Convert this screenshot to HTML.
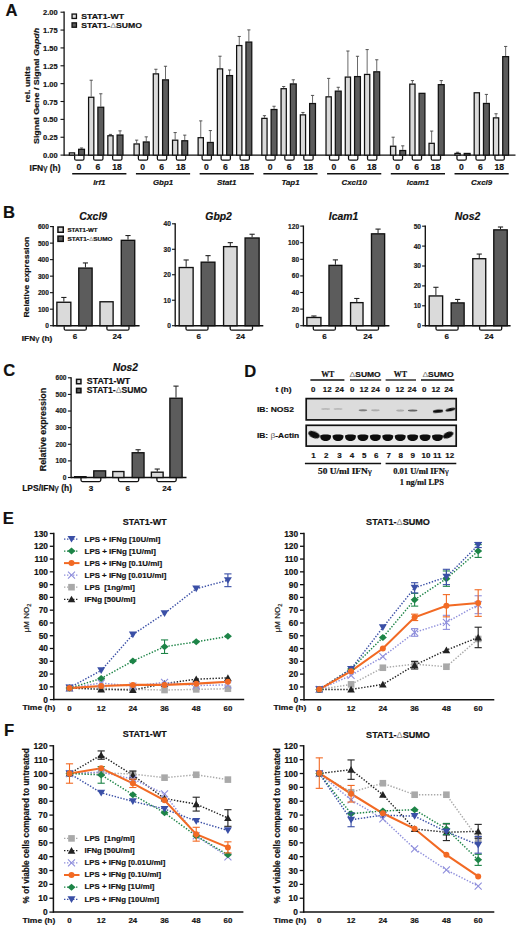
<!DOCTYPE html>
<html><head><meta charset="utf-8"><title>Figure</title>
<style>
html,body{margin:0;padding:0;background:#fff;}
body{width:520px;height:927px;overflow:hidden;}
svg{display:block;font-family:"Liberation Sans", sans-serif;}
text{stroke:#111;stroke-width:0.18px;}
tspan[fill]{stroke:none;}
</style></head><body>
<svg width="520" height="927" viewBox="0 0 520 927" fill="#111">
<rect x="0" y="0" width="520" height="927" fill="#fff"/>
<text x="5.6" y="15.7" font-size="16.6" font-weight="bold">A</text>
<line x1="64.1" y1="11.6" x2="64.1" y2="155.75" stroke="#111" stroke-width="1.3"/>
<line x1="60.5" y1="155.1" x2="64.1" y2="155.1" stroke="#111" stroke-width="1.1"/>
<text x="57.7" y="158.2" font-size="7.8" font-weight="bold" text-anchor="end" textLength="14.6" lengthAdjust="spacingAndGlyphs">0.00</text>
<line x1="60.5" y1="137.24" x2="64.1" y2="137.24" stroke="#111" stroke-width="1.1"/>
<text x="57.7" y="140.34" font-size="7.8" font-weight="bold" text-anchor="end" textLength="14.6" lengthAdjust="spacingAndGlyphs">0.25</text>
<line x1="60.5" y1="119.38" x2="64.1" y2="119.38" stroke="#111" stroke-width="1.1"/>
<text x="57.7" y="122.47" font-size="7.8" font-weight="bold" text-anchor="end" textLength="14.6" lengthAdjust="spacingAndGlyphs">0.50</text>
<line x1="60.5" y1="101.51" x2="64.1" y2="101.51" stroke="#111" stroke-width="1.1"/>
<text x="57.7" y="104.61" font-size="7.8" font-weight="bold" text-anchor="end" textLength="14.6" lengthAdjust="spacingAndGlyphs">0.75</text>
<line x1="60.5" y1="83.65" x2="64.1" y2="83.65" stroke="#111" stroke-width="1.1"/>
<text x="57.7" y="86.75" font-size="7.8" font-weight="bold" text-anchor="end" textLength="14.6" lengthAdjust="spacingAndGlyphs">1.00</text>
<line x1="60.5" y1="65.79" x2="64.1" y2="65.79" stroke="#111" stroke-width="1.1"/>
<text x="57.7" y="68.89" font-size="7.8" font-weight="bold" text-anchor="end" textLength="14.6" lengthAdjust="spacingAndGlyphs">1.25</text>
<line x1="60.5" y1="47.92" x2="64.1" y2="47.92" stroke="#111" stroke-width="1.1"/>
<text x="57.7" y="51.02" font-size="7.8" font-weight="bold" text-anchor="end" textLength="14.6" lengthAdjust="spacingAndGlyphs">1.50</text>
<line x1="60.5" y1="30.06" x2="64.1" y2="30.06" stroke="#111" stroke-width="1.1"/>
<text x="57.7" y="33.16" font-size="7.8" font-weight="bold" text-anchor="end" textLength="14.6" lengthAdjust="spacingAndGlyphs">1.75</text>
<line x1="60.5" y1="12.2" x2="64.1" y2="12.2" stroke="#111" stroke-width="1.1"/>
<text x="57.7" y="15.3" font-size="7.8" font-weight="bold" text-anchor="end" textLength="14.6" lengthAdjust="spacingAndGlyphs">2.00</text>
<line x1="64.1" y1="155.1" x2="515.5" y2="155.1" stroke="#111" stroke-width="1.3"/>
<rect x="72.05" y="14.05" width="4.4" height="4.4" fill="#dadada" stroke="#111" stroke-width="1.3"/>
<rect x="72.05" y="22.85" width="4.4" height="4.4" fill="#5c5c5c" stroke="#111" stroke-width="1.3"/>
<text x="81.2" y="18.9" font-size="7.5" font-weight="bold" textLength="42.8" lengthAdjust="spacingAndGlyphs">STAT1-WT</text>
<text x="81.2" y="28" font-size="7.5" font-weight="bold" textLength="60.8" lengthAdjust="spacingAndGlyphs">STAT1-<tspan font-weight="normal" fill="#888">Δ</tspan>SUMO</text>
<text x="30.3" y="84.4" font-size="8" font-weight="bold" text-anchor="middle" textLength="36.4" lengthAdjust="spacingAndGlyphs" transform="rotate(-90 30.3 84.4)">rel. units</text>
<text x="38.9" y="85.9" font-size="8" font-weight="bold" text-anchor="middle" textLength="116.3" lengthAdjust="spacingAndGlyphs" transform="rotate(-90 38.9 85.9)">Signal Gene / Signal <tspan font-style="italic">Gapdh</tspan></text>
<text x="29.6" y="170.6" font-size="8.4" font-weight="bold" textLength="31" lengthAdjust="spacingAndGlyphs">IFN<tspan font-weight="normal">γ</tspan> (h)</text>
<rect x="69.33" y="152.87" width="5.25" height="2.23" fill="#dadada" stroke="#111" stroke-width="1.25"/>
<line x1="81.55" y1="148.68" x2="81.55" y2="147.97" stroke="#444" stroke-width="0.8"/>
<line x1="79.95" y1="147.97" x2="83.15" y2="147.97" stroke="#444" stroke-width="0.9"/>
<rect x="78.62" y="149.31" width="5.85" height="5.79" fill="#5c5c5c" stroke="#111" stroke-width="1.25"/>
<path d="M74.65,155.7 L74.65,158.7 Q74.65,160.2 76.15,160.2 L82.45,160.2 Q83.95,160.2 83.95,158.7 L83.95,155.7" fill="none" stroke="#111" stroke-width="1.25"/>
<text x="79" y="169.9" font-size="8.6" font-weight="bold" text-anchor="middle">0</text>
<line x1="91.2" y1="96.63" x2="91.2" y2="80.23" stroke="#444" stroke-width="0.8"/>
<line x1="89.6" y1="80.23" x2="92.8" y2="80.23" stroke="#444" stroke-width="0.9"/>
<rect x="88.58" y="97.26" width="5.25" height="57.84" fill="#dadada" stroke="#111" stroke-width="1.25"/>
<line x1="100.8" y1="106.62" x2="100.8" y2="93.78" stroke="#444" stroke-width="0.8"/>
<line x1="99.2" y1="93.78" x2="102.4" y2="93.78" stroke="#444" stroke-width="0.9"/>
<rect x="97.88" y="107.24" width="5.85" height="47.86" fill="#5c5c5c" stroke="#111" stroke-width="1.25"/>
<path d="M93.65,155.7 L93.65,158.7 Q93.65,160.2 95.15,160.2 L101.45,160.2 Q102.95,160.2 102.95,158.7 L102.95,155.7" fill="none" stroke="#111" stroke-width="1.25"/>
<text x="98" y="169.9" font-size="8.6" font-weight="bold" text-anchor="middle">6</text>
<line x1="110.45" y1="135.14" x2="110.45" y2="134.42" stroke="#444" stroke-width="0.8"/>
<line x1="108.85" y1="134.42" x2="112.05" y2="134.42" stroke="#444" stroke-width="0.9"/>
<rect x="107.83" y="135.76" width="5.25" height="19.34" fill="#dadada" stroke="#111" stroke-width="1.25"/>
<line x1="120.05" y1="134.42" x2="120.05" y2="130.86" stroke="#444" stroke-width="0.8"/>
<line x1="118.45" y1="130.86" x2="121.65" y2="130.86" stroke="#444" stroke-width="0.9"/>
<rect x="117.12" y="135.05" width="5.85" height="20.05" fill="#5c5c5c" stroke="#111" stroke-width="1.25"/>
<path d="M112.65,155.7 L112.65,158.7 Q112.65,160.2 114.15,160.2 L120.45,160.2 Q121.95,160.2 121.95,158.7 L121.95,155.7" fill="none" stroke="#111" stroke-width="1.25"/>
<text x="117" y="169.9" font-size="8.6" font-weight="bold" text-anchor="middle">18</text>
<line x1="72.2" y1="173.75" x2="126.4" y2="173.75" stroke="#111" stroke-width="1.4"/>
<text x="99.3" y="184.8" font-size="7.9" font-weight="bold" text-anchor="middle" font-style="italic">Irf1</text>
<line x1="136.65" y1="143.34" x2="136.65" y2="140.13" stroke="#444" stroke-width="0.8"/>
<line x1="135.05" y1="140.13" x2="138.25" y2="140.13" stroke="#444" stroke-width="0.9"/>
<rect x="134.03" y="143.96" width="5.25" height="11.14" fill="#dadada" stroke="#111" stroke-width="1.25"/>
<line x1="146.25" y1="141.34" x2="146.25" y2="136.85" stroke="#444" stroke-width="0.8"/>
<line x1="144.65" y1="136.85" x2="147.85" y2="136.85" stroke="#444" stroke-width="0.9"/>
<rect x="143.33" y="141.96" width="5.85" height="13.14" fill="#5c5c5c" stroke="#111" stroke-width="1.25"/>
<path d="M138.37,155.7 L138.37,158.7 Q138.37,160.2 139.87,160.2 L146.17,160.2 Q147.67,160.2 147.67,158.7 L147.67,155.7" fill="none" stroke="#111" stroke-width="1.25"/>
<text x="142.72" y="169.9" font-size="8.6" font-weight="bold" text-anchor="middle">0</text>
<line x1="155.9" y1="73.25" x2="155.9" y2="69.25" stroke="#444" stroke-width="0.8"/>
<line x1="154.3" y1="69.25" x2="157.5" y2="69.25" stroke="#444" stroke-width="0.9"/>
<rect x="153.28" y="73.87" width="5.25" height="81.23" fill="#dadada" stroke="#111" stroke-width="1.25"/>
<line x1="165.5" y1="79.24" x2="165.5" y2="66.26" stroke="#444" stroke-width="0.8"/>
<line x1="163.9" y1="66.26" x2="167.1" y2="66.26" stroke="#444" stroke-width="0.9"/>
<rect x="162.58" y="79.86" width="5.85" height="75.24" fill="#5c5c5c" stroke="#111" stroke-width="1.25"/>
<path d="M157.37,155.7 L157.37,158.7 Q157.37,160.2 158.87,160.2 L165.17,160.2 Q166.67,160.2 166.67,158.7 L166.67,155.7" fill="none" stroke="#111" stroke-width="1.25"/>
<text x="161.72" y="169.9" font-size="8.6" font-weight="bold" text-anchor="middle">6</text>
<line x1="175.15" y1="139.56" x2="175.15" y2="132.57" stroke="#444" stroke-width="0.8"/>
<line x1="173.55" y1="132.57" x2="176.75" y2="132.57" stroke="#444" stroke-width="0.9"/>
<rect x="172.53" y="140.18" width="5.25" height="14.92" fill="#dadada" stroke="#111" stroke-width="1.25"/>
<line x1="184.75" y1="140.13" x2="184.75" y2="135.14" stroke="#444" stroke-width="0.8"/>
<line x1="183.15" y1="135.14" x2="186.35" y2="135.14" stroke="#444" stroke-width="0.9"/>
<rect x="181.83" y="140.75" width="5.85" height="14.35" fill="#5c5c5c" stroke="#111" stroke-width="1.25"/>
<path d="M176.37,155.7 L176.37,158.7 Q176.37,160.2 177.87,160.2 L184.17,160.2 Q185.67,160.2 185.67,158.7 L185.67,155.7" fill="none" stroke="#111" stroke-width="1.25"/>
<text x="180.72" y="169.9" font-size="8.6" font-weight="bold" text-anchor="middle">18</text>
<line x1="135.92" y1="173.75" x2="190.12" y2="173.75" stroke="#111" stroke-width="1.4"/>
<text x="163.02" y="184.8" font-size="7.9" font-weight="bold" text-anchor="middle" font-style="italic">Gbp1</text>
<line x1="200.75" y1="137.06" x2="200.75" y2="120.88" stroke="#444" stroke-width="0.8"/>
<line x1="199.15" y1="120.88" x2="202.35" y2="120.88" stroke="#444" stroke-width="0.9"/>
<rect x="198.12" y="137.69" width="5.25" height="17.41" fill="#dadada" stroke="#111" stroke-width="1.25"/>
<line x1="210.35" y1="141.84" x2="210.35" y2="130.57" stroke="#444" stroke-width="0.8"/>
<line x1="208.75" y1="130.57" x2="211.95" y2="130.57" stroke="#444" stroke-width="0.9"/>
<rect x="207.43" y="142.46" width="5.85" height="12.64" fill="#5c5c5c" stroke="#111" stroke-width="1.25"/>
<path d="M202.09,155.7 L202.09,158.7 Q202.09,160.2 203.59,160.2 L209.89,160.2 Q211.39,160.2 211.39,158.7 L211.39,155.7" fill="none" stroke="#111" stroke-width="1.25"/>
<text x="206.44" y="169.9" font-size="8.6" font-weight="bold" text-anchor="middle">0</text>
<line x1="220" y1="68.26" x2="220" y2="56.21" stroke="#444" stroke-width="0.8"/>
<line x1="218.4" y1="56.21" x2="221.6" y2="56.21" stroke="#444" stroke-width="0.9"/>
<rect x="217.38" y="68.88" width="5.25" height="86.22" fill="#dadada" stroke="#111" stroke-width="1.25"/>
<line x1="229.6" y1="74.96" x2="229.6" y2="69.97" stroke="#444" stroke-width="0.8"/>
<line x1="228" y1="69.97" x2="231.2" y2="69.97" stroke="#444" stroke-width="0.9"/>
<rect x="226.68" y="75.58" width="5.85" height="79.52" fill="#5c5c5c" stroke="#111" stroke-width="1.25"/>
<path d="M221.09,155.7 L221.09,158.7 Q221.09,160.2 222.59,160.2 L228.89,160.2 Q230.39,160.2 230.39,158.7 L230.39,155.7" fill="none" stroke="#111" stroke-width="1.25"/>
<text x="225.44" y="169.9" font-size="8.6" font-weight="bold" text-anchor="middle">6</text>
<line x1="239.25" y1="44.94" x2="239.25" y2="36.46" stroke="#444" stroke-width="0.8"/>
<line x1="237.65" y1="36.46" x2="240.85" y2="36.46" stroke="#444" stroke-width="0.9"/>
<rect x="236.62" y="45.57" width="5.25" height="109.53" fill="#dadada" stroke="#111" stroke-width="1.25"/>
<line x1="248.85" y1="41.45" x2="248.85" y2="29.9" stroke="#444" stroke-width="0.8"/>
<line x1="247.25" y1="29.9" x2="250.45" y2="29.9" stroke="#444" stroke-width="0.9"/>
<rect x="245.93" y="42.07" width="5.85" height="113.03" fill="#5c5c5c" stroke="#111" stroke-width="1.25"/>
<path d="M240.09,155.7 L240.09,158.7 Q240.09,160.2 241.59,160.2 L247.89,160.2 Q249.39,160.2 249.39,158.7 L249.39,155.7" fill="none" stroke="#111" stroke-width="1.25"/>
<text x="244.44" y="169.9" font-size="8.6" font-weight="bold" text-anchor="middle">18</text>
<line x1="199.64" y1="173.75" x2="253.84" y2="173.75" stroke="#111" stroke-width="1.4"/>
<text x="226.74" y="184.8" font-size="7.9" font-weight="bold" text-anchor="middle" font-style="italic">Stat1</text>
<line x1="264.45" y1="117.74" x2="264.45" y2="115.67" stroke="#444" stroke-width="0.8"/>
<line x1="262.85" y1="115.67" x2="266.05" y2="115.67" stroke="#444" stroke-width="0.9"/>
<rect x="261.82" y="118.36" width="5.25" height="36.74" fill="#dadada" stroke="#111" stroke-width="1.25"/>
<line x1="274.05" y1="108.9" x2="274.05" y2="106.26" stroke="#444" stroke-width="0.8"/>
<line x1="272.45" y1="106.26" x2="275.65" y2="106.26" stroke="#444" stroke-width="0.9"/>
<rect x="271.12" y="109.52" width="5.85" height="45.58" fill="#5c5c5c" stroke="#111" stroke-width="1.25"/>
<path d="M265.81,155.7 L265.81,158.7 Q265.81,160.2 267.31,160.2 L273.61,160.2 Q275.11,160.2 275.11,158.7 L275.11,155.7" fill="none" stroke="#111" stroke-width="1.25"/>
<text x="270.16" y="169.9" font-size="8.6" font-weight="bold" text-anchor="middle">0</text>
<line x1="283.7" y1="88.08" x2="283.7" y2="86.51" stroke="#444" stroke-width="0.8"/>
<line x1="282.1" y1="86.51" x2="285.3" y2="86.51" stroke="#444" stroke-width="0.9"/>
<rect x="281.07" y="88.7" width="5.25" height="66.4" fill="#dadada" stroke="#111" stroke-width="1.25"/>
<line x1="293.3" y1="83.3" x2="293.3" y2="79.81" stroke="#444" stroke-width="0.8"/>
<line x1="291.7" y1="79.81" x2="294.9" y2="79.81" stroke="#444" stroke-width="0.9"/>
<rect x="290.38" y="83.93" width="5.85" height="71.17" fill="#5c5c5c" stroke="#111" stroke-width="1.25"/>
<path d="M284.81,155.7 L284.81,158.7 Q284.81,160.2 286.31,160.2 L292.61,160.2 Q294.11,160.2 294.11,158.7 L294.11,155.7" fill="none" stroke="#111" stroke-width="1.25"/>
<text x="289.16" y="169.9" font-size="8.6" font-weight="bold" text-anchor="middle">6</text>
<line x1="302.95" y1="114.25" x2="302.95" y2="112.46" stroke="#444" stroke-width="0.8"/>
<line x1="301.35" y1="112.46" x2="304.55" y2="112.46" stroke="#444" stroke-width="0.9"/>
<rect x="300.32" y="114.87" width="5.25" height="40.23" fill="#dadada" stroke="#111" stroke-width="1.25"/>
<line x1="312.55" y1="102.91" x2="312.55" y2="95.42" stroke="#444" stroke-width="0.8"/>
<line x1="310.95" y1="95.42" x2="314.15" y2="95.42" stroke="#444" stroke-width="0.9"/>
<rect x="309.62" y="103.53" width="5.85" height="51.57" fill="#5c5c5c" stroke="#111" stroke-width="1.25"/>
<path d="M303.81,155.7 L303.81,158.7 Q303.81,160.2 305.31,160.2 L311.61,160.2 Q313.11,160.2 313.11,158.7 L313.11,155.7" fill="none" stroke="#111" stroke-width="1.25"/>
<text x="308.16" y="169.9" font-size="8.6" font-weight="bold" text-anchor="middle">18</text>
<line x1="263.36" y1="173.75" x2="317.56" y2="173.75" stroke="#111" stroke-width="1.4"/>
<text x="290.46" y="184.8" font-size="7.9" font-weight="bold" text-anchor="middle" font-style="italic">Tap1</text>
<line x1="328.65" y1="96.21" x2="328.65" y2="78.38" stroke="#444" stroke-width="0.8"/>
<line x1="327.05" y1="78.38" x2="330.25" y2="78.38" stroke="#444" stroke-width="0.9"/>
<rect x="326.02" y="96.83" width="5.25" height="58.27" fill="#dadada" stroke="#111" stroke-width="1.25"/>
<line x1="338.25" y1="90.5" x2="338.25" y2="87.29" stroke="#444" stroke-width="0.8"/>
<line x1="336.65" y1="87.29" x2="339.85" y2="87.29" stroke="#444" stroke-width="0.9"/>
<rect x="335.32" y="91.13" width="5.85" height="63.97" fill="#5c5c5c" stroke="#111" stroke-width="1.25"/>
<path d="M329.53,155.7 L329.53,158.7 Q329.53,160.2 331.03,160.2 L337.33,160.2 Q338.83,160.2 338.83,158.7 L338.83,155.7" fill="none" stroke="#111" stroke-width="1.25"/>
<text x="333.88" y="169.9" font-size="8.6" font-weight="bold" text-anchor="middle">0</text>
<line x1="347.9" y1="76.46" x2="347.9" y2="51" stroke="#444" stroke-width="0.8"/>
<line x1="346.3" y1="51" x2="349.5" y2="51" stroke="#444" stroke-width="0.9"/>
<rect x="345.27" y="77.08" width="5.25" height="78.02" fill="#dadada" stroke="#111" stroke-width="1.25"/>
<line x1="357.5" y1="75.96" x2="357.5" y2="56.28" stroke="#444" stroke-width="0.8"/>
<line x1="355.9" y1="56.28" x2="359.1" y2="56.28" stroke="#444" stroke-width="0.9"/>
<rect x="354.57" y="76.58" width="5.85" height="78.52" fill="#5c5c5c" stroke="#111" stroke-width="1.25"/>
<path d="M348.53,155.7 L348.53,158.7 Q348.53,160.2 350.03,160.2 L356.33,160.2 Q357.83,160.2 357.83,158.7 L357.83,155.7" fill="none" stroke="#111" stroke-width="1.25"/>
<text x="352.88" y="169.9" font-size="8.6" font-weight="bold" text-anchor="middle">6</text>
<line x1="367.15" y1="73.82" x2="367.15" y2="49.58" stroke="#444" stroke-width="0.8"/>
<line x1="365.55" y1="49.58" x2="368.75" y2="49.58" stroke="#444" stroke-width="0.9"/>
<rect x="364.52" y="74.44" width="5.25" height="80.66" fill="#dadada" stroke="#111" stroke-width="1.25"/>
<line x1="376.75" y1="71.18" x2="376.75" y2="59.77" stroke="#444" stroke-width="0.8"/>
<line x1="375.15" y1="59.77" x2="378.35" y2="59.77" stroke="#444" stroke-width="0.9"/>
<rect x="373.82" y="71.8" width="5.85" height="83.3" fill="#5c5c5c" stroke="#111" stroke-width="1.25"/>
<path d="M367.53,155.7 L367.53,158.7 Q367.53,160.2 369.03,160.2 L375.33,160.2 Q376.83,160.2 376.83,158.7 L376.83,155.7" fill="none" stroke="#111" stroke-width="1.25"/>
<text x="371.88" y="169.9" font-size="8.6" font-weight="bold" text-anchor="middle">18</text>
<line x1="327.08" y1="173.75" x2="381.28" y2="173.75" stroke="#111" stroke-width="1.4"/>
<text x="354.18" y="184.8" font-size="7.9" font-weight="bold" text-anchor="middle" font-style="italic">Cxcl10</text>
<line x1="393.15" y1="145.62" x2="393.15" y2="137.2" stroke="#444" stroke-width="0.8"/>
<line x1="391.55" y1="137.2" x2="394.75" y2="137.2" stroke="#444" stroke-width="0.9"/>
<rect x="390.52" y="146.24" width="5.25" height="8.86" fill="#dadada" stroke="#111" stroke-width="1.25"/>
<line x1="402.75" y1="149.9" x2="402.75" y2="145.83" stroke="#444" stroke-width="0.8"/>
<line x1="401.15" y1="145.83" x2="404.35" y2="145.83" stroke="#444" stroke-width="0.9"/>
<rect x="399.82" y="150.52" width="5.85" height="4.58" fill="#5c5c5c" stroke="#111" stroke-width="1.25"/>
<path d="M393.25,155.7 L393.25,158.7 Q393.25,160.2 394.75,160.2 L401.05,160.2 Q402.55,160.2 402.55,158.7 L402.55,155.7" fill="none" stroke="#111" stroke-width="1.25"/>
<text x="397.6" y="169.9" font-size="8.6" font-weight="bold" text-anchor="middle">0</text>
<line x1="412.4" y1="83.51" x2="412.4" y2="80.59" stroke="#444" stroke-width="0.8"/>
<line x1="410.8" y1="80.59" x2="414" y2="80.59" stroke="#444" stroke-width="0.9"/>
<rect x="409.77" y="84.14" width="5.25" height="70.96" fill="#dadada" stroke="#111" stroke-width="1.25"/>
<rect x="419.07" y="93.34" width="5.85" height="61.76" fill="#5c5c5c" stroke="#111" stroke-width="1.25"/>
<path d="M412.25,155.7 L412.25,158.7 Q412.25,160.2 413.75,160.2 L420.05,160.2 Q421.55,160.2 421.55,158.7 L421.55,155.7" fill="none" stroke="#111" stroke-width="1.25"/>
<text x="416.6" y="169.9" font-size="8.6" font-weight="bold" text-anchor="middle">6</text>
<line x1="431.65" y1="142.69" x2="431.65" y2="131.07" stroke="#444" stroke-width="0.8"/>
<line x1="430.05" y1="131.07" x2="433.25" y2="131.07" stroke="#444" stroke-width="0.9"/>
<rect x="429.02" y="143.32" width="5.25" height="11.78" fill="#dadada" stroke="#111" stroke-width="1.25"/>
<line x1="441.25" y1="84.01" x2="441.25" y2="80.59" stroke="#444" stroke-width="0.8"/>
<line x1="439.65" y1="80.59" x2="442.85" y2="80.59" stroke="#444" stroke-width="0.9"/>
<rect x="438.32" y="84.64" width="5.85" height="70.46" fill="#5c5c5c" stroke="#111" stroke-width="1.25"/>
<path d="M431.25,155.7 L431.25,158.7 Q431.25,160.2 432.75,160.2 L439.05,160.2 Q440.55,160.2 440.55,158.7 L440.55,155.7" fill="none" stroke="#111" stroke-width="1.25"/>
<text x="435.6" y="169.9" font-size="8.6" font-weight="bold" text-anchor="middle">18</text>
<line x1="390.8" y1="173.75" x2="445" y2="173.75" stroke="#111" stroke-width="1.4"/>
<text x="417.9" y="184.8" font-size="7.9" font-weight="bold" text-anchor="middle" font-style="italic">Icam1</text>
<line x1="457.55" y1="152.82" x2="457.55" y2="152.25" stroke="#444" stroke-width="0.8"/>
<line x1="455.95" y1="152.25" x2="459.15" y2="152.25" stroke="#444" stroke-width="0.9"/>
<rect x="454.93" y="153.44" width="5.25" height="1.66" fill="#dadada" stroke="#111" stroke-width="1.25"/>
<rect x="464.23" y="153.44" width="5.85" height="1.66" fill="#5c5c5c" stroke="#111" stroke-width="1.25"/>
<path d="M456.97,155.7 L456.97,158.7 Q456.97,160.2 458.47,160.2 L464.77,160.2 Q466.27,160.2 466.27,158.7 L466.27,155.7" fill="none" stroke="#111" stroke-width="1.25"/>
<text x="461.32" y="169.9" font-size="8.6" font-weight="bold" text-anchor="middle">0</text>
<rect x="474.18" y="92.77" width="5.25" height="62.33" fill="#dadada" stroke="#111" stroke-width="1.25"/>
<line x1="486.4" y1="102.84" x2="486.4" y2="94.42" stroke="#444" stroke-width="0.8"/>
<line x1="484.8" y1="94.42" x2="488" y2="94.42" stroke="#444" stroke-width="0.9"/>
<rect x="483.48" y="103.46" width="5.85" height="51.64" fill="#5c5c5c" stroke="#111" stroke-width="1.25"/>
<path d="M475.97,155.7 L475.97,158.7 Q475.97,160.2 477.47,160.2 L483.77,160.2 Q485.27,160.2 485.27,158.7 L485.27,155.7" fill="none" stroke="#111" stroke-width="1.25"/>
<text x="480.32" y="169.9" font-size="8.6" font-weight="bold" text-anchor="middle">6</text>
<line x1="496.05" y1="117.24" x2="496.05" y2="113.75" stroke="#444" stroke-width="0.8"/>
<line x1="494.45" y1="113.75" x2="497.65" y2="113.75" stroke="#444" stroke-width="0.9"/>
<rect x="493.43" y="117.86" width="5.25" height="37.24" fill="#dadada" stroke="#111" stroke-width="1.25"/>
<line x1="505.65" y1="55.99" x2="505.65" y2="46.44" stroke="#444" stroke-width="0.8"/>
<line x1="504.05" y1="46.44" x2="507.25" y2="46.44" stroke="#444" stroke-width="0.9"/>
<rect x="502.73" y="56.62" width="5.85" height="98.48" fill="#5c5c5c" stroke="#111" stroke-width="1.25"/>
<path d="M494.97,155.7 L494.97,158.7 Q494.97,160.2 496.47,160.2 L502.77,160.2 Q504.27,160.2 504.27,158.7 L504.27,155.7" fill="none" stroke="#111" stroke-width="1.25"/>
<text x="499.32" y="169.9" font-size="8.6" font-weight="bold" text-anchor="middle">18</text>
<line x1="454.52" y1="173.75" x2="508.72" y2="173.75" stroke="#111" stroke-width="1.4"/>
<text x="481.62" y="184.8" font-size="7.9" font-weight="bold" text-anchor="middle" font-style="italic">Cxcl9</text>
<text x="3.1" y="217.6" font-size="16.6" font-weight="bold">B</text>
<text x="28.9" y="277.2" font-size="8.1" font-weight="bold" text-anchor="middle" textLength="80.8" lengthAdjust="spacingAndGlyphs" transform="rotate(-90 28.9 277.2)">Relative expression</text>
<text x="21.8" y="341" font-size="7.3" font-weight="bold" textLength="30.5" lengthAdjust="spacingAndGlyphs">IFN<tspan font-weight="normal">γ</tspan> (h)</text>
<line x1="53.2" y1="226" x2="53.2" y2="326.4" stroke="#111" stroke-width="1.35"/>
<line x1="50" y1="325.7" x2="53.2" y2="325.7" stroke="#111" stroke-width="1.1"/>
<text x="48.9" y="328.1" font-size="6.6" font-weight="bold" text-anchor="end" fill="#222">0</text>
<line x1="50" y1="309.18" x2="53.2" y2="309.18" stroke="#111" stroke-width="1.1"/>
<text x="48.9" y="311.58" font-size="6.6" font-weight="bold" text-anchor="end" fill="#222">100</text>
<line x1="50" y1="292.67" x2="53.2" y2="292.67" stroke="#111" stroke-width="1.1"/>
<text x="48.9" y="295.07" font-size="6.6" font-weight="bold" text-anchor="end" fill="#222">200</text>
<line x1="50" y1="276.15" x2="53.2" y2="276.15" stroke="#111" stroke-width="1.1"/>
<text x="48.9" y="278.55" font-size="6.6" font-weight="bold" text-anchor="end" fill="#222">300</text>
<line x1="50" y1="259.63" x2="53.2" y2="259.63" stroke="#111" stroke-width="1.1"/>
<text x="48.9" y="262.03" font-size="6.6" font-weight="bold" text-anchor="end" fill="#222">400</text>
<line x1="50" y1="243.12" x2="53.2" y2="243.12" stroke="#111" stroke-width="1.1"/>
<text x="48.9" y="245.52" font-size="6.6" font-weight="bold" text-anchor="end" fill="#222">500</text>
<line x1="50" y1="226.6" x2="53.2" y2="226.6" stroke="#111" stroke-width="1.1"/>
<text x="48.9" y="229" font-size="6.6" font-weight="bold" text-anchor="end" fill="#222">600</text>
<line x1="53.2" y1="325.7" x2="139.6" y2="325.7" stroke="#111" stroke-width="1.35"/>
<line x1="63.85" y1="301.59" x2="63.85" y2="297.46" stroke="#222" stroke-width="1"/>
<line x1="61.25" y1="297.46" x2="66.45" y2="297.46" stroke="#222" stroke-width="1.1"/>
<rect x="56.88" y="302.26" width="13.95" height="23.44" fill="#dadada" stroke="#111" stroke-width="1.35"/>
<line x1="85.45" y1="267.4" x2="85.45" y2="262.94" stroke="#222" stroke-width="1"/>
<line x1="82.85" y1="262.94" x2="88.05" y2="262.94" stroke="#222" stroke-width="1.1"/>
<rect x="78.77" y="268.07" width="13.35" height="57.63" fill="#5c5c5c" stroke="#111" stroke-width="1.35"/>
<rect x="99.97" y="301.77" width="13.15" height="23.93" fill="#dadada" stroke="#111" stroke-width="1.35"/>
<line x1="128" y1="239.65" x2="128" y2="235.52" stroke="#222" stroke-width="1"/>
<line x1="125.4" y1="235.52" x2="130.6" y2="235.52" stroke="#222" stroke-width="1.1"/>
<rect x="121.27" y="240.32" width="13.45" height="85.38" fill="#5c5c5c" stroke="#111" stroke-width="1.35"/>
<path d="M64.2,326.3 L64.2,328.7 Q64.2,330.2 65.7,330.2 L84.8,330.2 Q86.3,330.2 86.3,328.7 L86.3,326.3" fill="none" stroke="#111" stroke-width="1.3"/>
<path d="M106.9,326.3 L106.9,328.7 Q106.9,330.2 108.4,330.2 L127.5,330.2 Q129,330.2 129,328.7 L129,326.3" fill="none" stroke="#111" stroke-width="1.3"/>
<text x="74.9" y="339.2" font-size="8.1" font-weight="bold" text-anchor="middle">6</text>
<text x="117.1" y="339.2" font-size="8.1" font-weight="bold" text-anchor="middle">24</text>
<text x="93.2" y="219.8" font-size="10.4" font-weight="bold" text-anchor="middle" font-style="italic">Cxcl9</text>
<rect x="57.95" y="227.05" width="5.3" height="5.2" fill="#dadada" stroke="#111" stroke-width="1.5"/>
<rect x="57.95" y="236.15" width="5.3" height="5.2" fill="#5c5c5c" stroke="#111" stroke-width="1.5"/>
<text x="67.4" y="231.7" font-size="5.9" font-weight="bold" textLength="30.2" lengthAdjust="spacingAndGlyphs">STAT1-WT</text>
<text x="67.4" y="240.8" font-size="5.9" font-weight="bold" textLength="45.2" lengthAdjust="spacingAndGlyphs">STAT1-<tspan font-weight="normal" fill="#888">Δ</tspan>SUMO</text>
<line x1="175.2" y1="223.2" x2="175.2" y2="326.4" stroke="#111" stroke-width="1.35"/>
<line x1="172" y1="325.7" x2="175.2" y2="325.7" stroke="#111" stroke-width="1.1"/>
<text x="170.9" y="328.1" font-size="6.6" font-weight="bold" text-anchor="end" fill="#222">0</text>
<line x1="172" y1="300.23" x2="175.2" y2="300.23" stroke="#111" stroke-width="1.1"/>
<text x="170.9" y="302.62" font-size="6.6" font-weight="bold" text-anchor="end" fill="#222">10</text>
<line x1="172" y1="274.75" x2="175.2" y2="274.75" stroke="#111" stroke-width="1.1"/>
<text x="170.9" y="277.15" font-size="6.6" font-weight="bold" text-anchor="end" fill="#222">20</text>
<line x1="172" y1="249.28" x2="175.2" y2="249.28" stroke="#111" stroke-width="1.1"/>
<text x="170.9" y="251.68" font-size="6.6" font-weight="bold" text-anchor="end" fill="#222">30</text>
<line x1="172" y1="223.8" x2="175.2" y2="223.8" stroke="#111" stroke-width="1.1"/>
<text x="170.9" y="226.2" font-size="6.6" font-weight="bold" text-anchor="end" fill="#222">40</text>
<line x1="175.2" y1="325.7" x2="263.3" y2="325.7" stroke="#111" stroke-width="1.35"/>
<line x1="186.15" y1="266.85" x2="186.15" y2="259.97" stroke="#222" stroke-width="1"/>
<line x1="183.55" y1="259.97" x2="188.75" y2="259.97" stroke="#222" stroke-width="1.1"/>
<rect x="179.18" y="267.53" width="13.95" height="58.17" fill="#dadada" stroke="#111" stroke-width="1.35"/>
<line x1="208.05" y1="261.5" x2="208.05" y2="255.64" stroke="#222" stroke-width="1"/>
<line x1="205.45" y1="255.64" x2="210.65" y2="255.64" stroke="#222" stroke-width="1.1"/>
<rect x="201.18" y="262.18" width="13.75" height="63.52" fill="#5c5c5c" stroke="#111" stroke-width="1.35"/>
<line x1="230.3" y1="245.96" x2="230.3" y2="242.65" stroke="#222" stroke-width="1"/>
<line x1="227.7" y1="242.65" x2="232.9" y2="242.65" stroke="#222" stroke-width="1.1"/>
<rect x="223.58" y="246.64" width="13.45" height="79.06" fill="#dadada" stroke="#111" stroke-width="1.35"/>
<line x1="252.1" y1="237.3" x2="252.1" y2="234.24" stroke="#222" stroke-width="1"/>
<line x1="249.5" y1="234.24" x2="254.7" y2="234.24" stroke="#222" stroke-width="1.1"/>
<rect x="245.08" y="237.98" width="14.05" height="87.72" fill="#5c5c5c" stroke="#111" stroke-width="1.35"/>
<path d="M186,326.3 L186,328.7 Q186,330.2 187.5,330.2 L206.5,330.2 Q208,330.2 208,328.7 L208,326.3" fill="none" stroke="#111" stroke-width="1.3"/>
<path d="M230.2,326.3 L230.2,328.7 Q230.2,330.2 231.7,330.2 L251,330.2 Q252.5,330.2 252.5,328.7 L252.5,326.3" fill="none" stroke="#111" stroke-width="1.3"/>
<text x="198.7" y="339.2" font-size="8.1" font-weight="bold" text-anchor="middle">6</text>
<text x="240.4" y="339.2" font-size="8.1" font-weight="bold" text-anchor="middle">24</text>
<text x="218.6" y="219.8" font-size="10.4" font-weight="bold" text-anchor="middle" font-style="italic">Gbp2</text>
<line x1="303.4" y1="225.5" x2="303.4" y2="326.4" stroke="#111" stroke-width="1.35"/>
<line x1="300.2" y1="325.7" x2="303.4" y2="325.7" stroke="#111" stroke-width="1.1"/>
<text x="299.1" y="328.1" font-size="6.6" font-weight="bold" text-anchor="end" fill="#222">0</text>
<line x1="300.2" y1="309.1" x2="303.4" y2="309.1" stroke="#111" stroke-width="1.1"/>
<text x="299.1" y="311.5" font-size="6.6" font-weight="bold" text-anchor="end" fill="#222">20</text>
<line x1="300.2" y1="292.5" x2="303.4" y2="292.5" stroke="#111" stroke-width="1.1"/>
<text x="299.1" y="294.9" font-size="6.6" font-weight="bold" text-anchor="end" fill="#222">40</text>
<line x1="300.2" y1="275.9" x2="303.4" y2="275.9" stroke="#111" stroke-width="1.1"/>
<text x="299.1" y="278.3" font-size="6.6" font-weight="bold" text-anchor="end" fill="#222">60</text>
<line x1="300.2" y1="259.3" x2="303.4" y2="259.3" stroke="#111" stroke-width="1.1"/>
<text x="299.1" y="261.7" font-size="6.6" font-weight="bold" text-anchor="end" fill="#222">80</text>
<line x1="300.2" y1="242.7" x2="303.4" y2="242.7" stroke="#111" stroke-width="1.1"/>
<text x="299.1" y="245.1" font-size="6.6" font-weight="bold" text-anchor="end" fill="#222">100</text>
<line x1="300.2" y1="226.1" x2="303.4" y2="226.1" stroke="#111" stroke-width="1.1"/>
<text x="299.1" y="228.5" font-size="6.6" font-weight="bold" text-anchor="end" fill="#222">120</text>
<line x1="303.4" y1="325.7" x2="389.4" y2="325.7" stroke="#111" stroke-width="1.35"/>
<line x1="313.9" y1="316.82" x2="313.9" y2="315.99" stroke="#222" stroke-width="1"/>
<line x1="311.3" y1="315.99" x2="316.5" y2="315.99" stroke="#222" stroke-width="1.1"/>
<rect x="306.88" y="317.49" width="14.05" height="8.21" fill="#dadada" stroke="#111" stroke-width="1.35"/>
<line x1="335.4" y1="264.69" x2="335.4" y2="259.88" stroke="#222" stroke-width="1"/>
<line x1="332.8" y1="259.88" x2="338" y2="259.88" stroke="#222" stroke-width="1.1"/>
<rect x="328.98" y="265.37" width="12.85" height="60.33" fill="#5c5c5c" stroke="#111" stroke-width="1.35"/>
<line x1="356.8" y1="301.96" x2="356.8" y2="298.48" stroke="#222" stroke-width="1"/>
<line x1="354.2" y1="298.48" x2="359.4" y2="298.48" stroke="#222" stroke-width="1.1"/>
<rect x="350.57" y="302.64" width="12.45" height="23.06" fill="#dadada" stroke="#111" stroke-width="1.35"/>
<line x1="378.05" y1="233.15" x2="378.05" y2="229.09" stroke="#222" stroke-width="1"/>
<line x1="375.45" y1="229.09" x2="380.65" y2="229.09" stroke="#222" stroke-width="1.1"/>
<rect x="371.48" y="233.83" width="13.15" height="91.87" fill="#5c5c5c" stroke="#111" stroke-width="1.35"/>
<path d="M313.3,326.3 L313.3,328.7 Q313.3,330.2 314.8,330.2 L333.9,330.2 Q335.4,330.2 335.4,328.7 L335.4,326.3" fill="none" stroke="#111" stroke-width="1.3"/>
<path d="M356.4,326.3 L356.4,328.7 Q356.4,330.2 357.9,330.2 L377,330.2 Q378.5,330.2 378.5,328.7 L378.5,326.3" fill="none" stroke="#111" stroke-width="1.3"/>
<text x="324.6" y="339.2" font-size="8.1" font-weight="bold" text-anchor="middle">6</text>
<text x="367.7" y="339.2" font-size="8.1" font-weight="bold" text-anchor="middle">24</text>
<text x="343.5" y="219.8" font-size="10.4" font-weight="bold" text-anchor="middle" font-style="italic">Icam1</text>
<line x1="425.3" y1="225.6" x2="425.3" y2="326.4" stroke="#111" stroke-width="1.35"/>
<line x1="422.1" y1="325.7" x2="425.3" y2="325.7" stroke="#111" stroke-width="1.1"/>
<text x="421" y="328.1" font-size="6.6" font-weight="bold" text-anchor="end" fill="#222">0</text>
<line x1="422.1" y1="305.8" x2="425.3" y2="305.8" stroke="#111" stroke-width="1.1"/>
<text x="421" y="308.2" font-size="6.6" font-weight="bold" text-anchor="end" fill="#222">10</text>
<line x1="422.1" y1="285.9" x2="425.3" y2="285.9" stroke="#111" stroke-width="1.1"/>
<text x="421" y="288.3" font-size="6.6" font-weight="bold" text-anchor="end" fill="#222">20</text>
<line x1="422.1" y1="266" x2="425.3" y2="266" stroke="#111" stroke-width="1.1"/>
<text x="421" y="268.4" font-size="6.6" font-weight="bold" text-anchor="end" fill="#222">30</text>
<line x1="422.1" y1="246.1" x2="425.3" y2="246.1" stroke="#111" stroke-width="1.1"/>
<text x="421" y="248.5" font-size="6.6" font-weight="bold" text-anchor="end" fill="#222">40</text>
<line x1="422.1" y1="226.2" x2="425.3" y2="226.2" stroke="#111" stroke-width="1.1"/>
<text x="421" y="228.6" font-size="6.6" font-weight="bold" text-anchor="end" fill="#222">50</text>
<line x1="425.3" y1="325.7" x2="510.6" y2="325.7" stroke="#111" stroke-width="1.35"/>
<line x1="435.9" y1="295.25" x2="435.9" y2="287.29" stroke="#222" stroke-width="1"/>
<line x1="433.3" y1="287.29" x2="438.5" y2="287.29" stroke="#222" stroke-width="1.1"/>
<rect x="429.18" y="295.93" width="13.45" height="29.77" fill="#dadada" stroke="#111" stroke-width="1.35"/>
<line x1="457.65" y1="302.22" x2="457.65" y2="299.43" stroke="#222" stroke-width="1"/>
<line x1="455.05" y1="299.43" x2="460.25" y2="299.43" stroke="#222" stroke-width="1.1"/>
<rect x="451.18" y="302.89" width="12.95" height="22.81" fill="#5c5c5c" stroke="#111" stroke-width="1.35"/>
<line x1="479.25" y1="258.04" x2="479.25" y2="254.06" stroke="#222" stroke-width="1"/>
<line x1="476.65" y1="254.06" x2="481.85" y2="254.06" stroke="#222" stroke-width="1.1"/>
<rect x="472.78" y="258.71" width="12.95" height="66.99" fill="#dadada" stroke="#111" stroke-width="1.35"/>
<line x1="500.5" y1="229.19" x2="500.5" y2="227" stroke="#222" stroke-width="1"/>
<line x1="497.9" y1="227" x2="503.1" y2="227" stroke="#222" stroke-width="1.1"/>
<rect x="493.78" y="229.86" width="13.45" height="95.84" fill="#5c5c5c" stroke="#111" stroke-width="1.35"/>
<path d="M436,326.3 L436,328.7 Q436,330.2 437.5,330.2 L456.6,330.2 Q458.1,330.2 458.1,328.7 L458.1,326.3" fill="none" stroke="#111" stroke-width="1.3"/>
<path d="M479.6,326.3 L479.6,328.7 Q479.6,330.2 481.1,330.2 L500.2,330.2 Q501.7,330.2 501.7,328.7 L501.7,326.3" fill="none" stroke="#111" stroke-width="1.3"/>
<text x="446.8" y="339.2" font-size="8.1" font-weight="bold" text-anchor="middle">6</text>
<text x="489" y="339.2" font-size="8.1" font-weight="bold" text-anchor="middle">24</text>
<text x="467.5" y="219.8" font-size="10.4" font-weight="bold" text-anchor="middle" font-style="italic">Nos2</text>
<text x="3.2" y="376.4" font-size="16.6" font-weight="bold">C</text>
<line x1="71.1" y1="377.2" x2="71.1" y2="478.2" stroke="#111" stroke-width="1.35"/>
<line x1="67.9" y1="477.5" x2="71.1" y2="477.5" stroke="#111" stroke-width="1.1"/>
<text x="66.5" y="479.9" font-size="6.6" font-weight="bold" text-anchor="end" fill="#222">0</text>
<line x1="67.9" y1="460.88" x2="71.1" y2="460.88" stroke="#111" stroke-width="1.1"/>
<text x="66.5" y="463.28" font-size="6.6" font-weight="bold" text-anchor="end" fill="#222">100</text>
<line x1="67.9" y1="444.27" x2="71.1" y2="444.27" stroke="#111" stroke-width="1.1"/>
<text x="66.5" y="446.67" font-size="6.6" font-weight="bold" text-anchor="end" fill="#222">200</text>
<line x1="67.9" y1="427.65" x2="71.1" y2="427.65" stroke="#111" stroke-width="1.1"/>
<text x="66.5" y="430.05" font-size="6.6" font-weight="bold" text-anchor="end" fill="#222">300</text>
<line x1="67.9" y1="411.03" x2="71.1" y2="411.03" stroke="#111" stroke-width="1.1"/>
<text x="66.5" y="413.43" font-size="6.6" font-weight="bold" text-anchor="end" fill="#222">400</text>
<line x1="67.9" y1="394.42" x2="71.1" y2="394.42" stroke="#111" stroke-width="1.1"/>
<text x="66.5" y="396.82" font-size="6.6" font-weight="bold" text-anchor="end" fill="#222">500</text>
<line x1="67.9" y1="377.8" x2="71.1" y2="377.8" stroke="#111" stroke-width="1.1"/>
<text x="66.5" y="380.2" font-size="6.6" font-weight="bold" text-anchor="end" fill="#222">600</text>
<line x1="71.1" y1="477.5" x2="186.5" y2="477.5" stroke="#111" stroke-width="1.35"/>
<text x="125.3" y="370.6" font-size="10.3" font-weight="bold" text-anchor="middle" font-style="italic">Nos2</text>
<rect x="76.55" y="379.35" width="4.4" height="4.4" fill="#dadada" stroke="#111" stroke-width="1.5"/>
<rect x="76.55" y="388.35" width="4.4" height="4.4" fill="#5c5c5c" stroke="#111" stroke-width="1.5"/>
<text x="86.8" y="384.3" font-size="8.2" font-weight="bold" textLength="43.4" lengthAdjust="spacingAndGlyphs">STAT1-WT</text>
<text x="86.8" y="393.4" font-size="8.2" font-weight="bold" textLength="60.5" lengthAdjust="spacingAndGlyphs">STAT1-<tspan font-weight="normal" fill="#888">Δ</tspan>SUMO</text>
<text x="46.1" y="429.5" font-size="8.2" font-weight="bold" text-anchor="middle" textLength="83.5" lengthAdjust="spacingAndGlyphs" transform="rotate(-90 46.1 429.5)">Relative expression</text>
<rect x="74.67" y="476.68" width="11.35" height="0.82" fill="#dadada" stroke="#111" stroke-width="1.35"/>
<rect x="93.77" y="470.86" width="11.85" height="6.64" fill="#5c5c5c" stroke="#111" stroke-width="1.35"/>
<rect x="112.77" y="471.53" width="11.15" height="5.97" fill="#dadada" stroke="#111" stroke-width="1.35"/>
<line x1="138.1" y1="452.08" x2="138.1" y2="449.75" stroke="#222" stroke-width="1"/>
<line x1="135.5" y1="449.75" x2="140.7" y2="449.75" stroke="#222" stroke-width="1.1"/>
<rect x="132.18" y="452.75" width="11.85" height="24.75" fill="#5c5c5c" stroke="#111" stroke-width="1.35"/>
<line x1="157.25" y1="471.52" x2="157.25" y2="469.03" stroke="#222" stroke-width="1"/>
<line x1="154.65" y1="469.03" x2="159.85" y2="469.03" stroke="#222" stroke-width="1.1"/>
<rect x="151.38" y="472.19" width="11.75" height="5.31" fill="#dadada" stroke="#111" stroke-width="1.35"/>
<line x1="176" y1="397.57" x2="176" y2="386.11" stroke="#222" stroke-width="1"/>
<line x1="173.4" y1="386.11" x2="178.6" y2="386.11" stroke="#222" stroke-width="1.1"/>
<rect x="169.88" y="398.25" width="12.25" height="79.25" fill="#5c5c5c" stroke="#111" stroke-width="1.35"/>
<path d="M81,478.1 L81,480.1 Q81,481.6 82.5,481.6 L99.3,481.6 Q100.8,481.6 100.8,480.1 L100.8,478.1" fill="none" stroke="#111" stroke-width="1.3"/>
<path d="M118.5,478.1 L118.5,480.1 Q118.5,481.6 120,481.6 L137.2,481.6 Q138.7,481.6 138.7,480.1 L138.7,478.1" fill="none" stroke="#111" stroke-width="1.3"/>
<path d="M156.9,478.1 L156.9,480.1 Q156.9,481.6 158.4,481.6 L174.7,481.6 Q176.2,481.6 176.2,480.1 L176.2,478.1" fill="none" stroke="#111" stroke-width="1.3"/>
<text x="91.1" y="490.6" font-size="8.1" font-weight="bold" text-anchor="middle">3</text>
<text x="127.7" y="490.6" font-size="8.1" font-weight="bold" text-anchor="middle">6</text>
<text x="166.8" y="490.6" font-size="8.1" font-weight="bold" text-anchor="middle">24</text>
<text x="22.2" y="490.6" font-size="8.6" font-weight="bold" textLength="49.8" lengthAdjust="spacingAndGlyphs">LPS/IFN<tspan font-weight="normal">γ</tspan> (h)</text>
<text x="244.3" y="376.5" font-size="16.6" font-weight="bold">D</text>
<text x="321.2" y="376.8" font-size="7.4" font-weight="bold" font-family='"Liberation Serif", serif' textLength="13.2" lengthAdjust="spacingAndGlyphs">WT</text>
<text x="393.8" y="376.8" font-size="7.4" font-weight="bold" font-family='"Liberation Serif", serif' textLength="13.2" lengthAdjust="spacingAndGlyphs">WT</text>
<text x="349.6" y="377" font-size="7.6" font-weight="bold" textLength="31.1" lengthAdjust="spacingAndGlyphs"><tspan font-weight="normal" fill="#777">Δ</tspan>SUMO</text>
<text x="422.4" y="377" font-size="7.6" font-weight="bold" textLength="31.1" lengthAdjust="spacingAndGlyphs"><tspan font-weight="normal" fill="#777">Δ</tspan>SUMO</text>
<line x1="310.4" y1="380" x2="344.4" y2="380" stroke="#111" stroke-width="1.3"/>
<line x1="350" y1="380" x2="381.2" y2="380" stroke="#111" stroke-width="1.3"/>
<line x1="385.6" y1="380" x2="416" y2="380" stroke="#111" stroke-width="1.3"/>
<line x1="421" y1="380" x2="454.3" y2="380" stroke="#111" stroke-width="1.3"/>
<text x="275.6" y="392" font-size="7.4" font-weight="bold" textLength="15.9" lengthAdjust="spacingAndGlyphs">t (h)</text>
<text x="313.1" y="392.3" font-size="7.9" font-weight="bold" text-anchor="middle">0</text>
<text x="327.2" y="392.3" font-size="7.9" font-weight="bold" text-anchor="middle">12</text>
<text x="339.5" y="392.3" font-size="7.9" font-weight="bold" text-anchor="middle">24</text>
<text x="352.3" y="392.3" font-size="7.9" font-weight="bold" text-anchor="middle">0</text>
<text x="363.9" y="392.3" font-size="7.9" font-weight="bold" text-anchor="middle">12</text>
<text x="375.4" y="392.3" font-size="7.9" font-weight="bold" text-anchor="middle">24</text>
<text x="387.6" y="392.3" font-size="7.9" font-weight="bold" text-anchor="middle">0</text>
<text x="399.8" y="392.3" font-size="7.9" font-weight="bold" text-anchor="middle">12</text>
<text x="411.9" y="392.3" font-size="7.9" font-weight="bold" text-anchor="middle">24</text>
<text x="424.2" y="392.3" font-size="7.9" font-weight="bold" text-anchor="middle">0</text>
<text x="435.8" y="392.3" font-size="7.9" font-weight="bold" text-anchor="middle">12</text>
<text x="448.6" y="392.3" font-size="7.9" font-weight="bold" text-anchor="middle">24</text>
<text x="256.9" y="411.7" font-size="8" font-weight="bold" textLength="37" lengthAdjust="spacingAndGlyphs">IB: NOS2</text>
<text x="256.9" y="438" font-size="8" font-weight="bold" textLength="42.3" lengthAdjust="spacingAndGlyphs">IB: <tspan font-weight="normal" fill="#666">β</tspan>-Actin</text>
<defs><filter id="bl" x="-30%" y="-100%" width="160%" height="300%"><feGaussianBlur stdDeviation="0.7"/></filter><filter id="bl2" x="-20%" y="-50%" width="140%" height="200%"><feGaussianBlur stdDeviation="0.3"/></filter></defs>
<rect x="306.2" y="398.6" width="150" height="21.3" fill="#dcdcdc" stroke="#111" stroke-width="1.7"/>
<rect x="306.2" y="425.3" width="150" height="20.8" fill="#eaeaea" stroke="#111" stroke-width="1.7"/>
<ellipse cx="325.63" cy="409" rx="4.5" ry="1" fill="#222" fill-opacity="0.16" filter="url(#bl)"/>
<ellipse cx="338.06" cy="409" rx="4.5" ry="1" fill="#222" fill-opacity="0.16" filter="url(#bl)"/>
<ellipse cx="362.92" cy="410.2" rx="4.25" ry="1" fill="#222" fill-opacity="0.5" filter="url(#bl)"/>
<ellipse cx="375.35" cy="410.2" rx="4.25" ry="1" fill="#222" fill-opacity="0.25" filter="url(#bl)"/>
<ellipse cx="400.21" cy="410.4" rx="4" ry="1" fill="#222" fill-opacity="0.25" filter="url(#bl)"/>
<ellipse cx="412.64" cy="410.4" rx="4.75" ry="1" fill="#222" fill-opacity="0.65" filter="url(#bl)"/>
<ellipse cx="438" cy="411.2" rx="5.2" ry="1.6" transform="rotate(-5 438 411.2)" fill="#111" filter="url(#bl2)"/>
<ellipse cx="450.43" cy="409.6" rx="5.0" ry="1.7" transform="rotate(-12 450.43 409.6)" fill="#111" filter="url(#bl2)"/>
<ellipse cx="314" cy="434.7" rx="6.0" ry="3.3" transform="rotate(22 314 434.7)" fill="#0a0a0a" filter="url(#bl2)"/>
<path d="M320.23,435.6 C321.03,434 330.23,434 331.03,435.6 C331.43,439.4 328.63,441.1 325.63,441.1 C322.63,441.1 319.83,439.4 320.23,435.6 Z" fill="#0a0a0a" filter="url(#bl2)"/>
<path d="M332.66,435.6 C333.46,434 342.66,434 343.46,435.6 C343.86,439.4 341.06,441.1 338.06,441.1 C335.06,441.1 332.26,439.4 332.66,435.6 Z" fill="#0a0a0a" filter="url(#bl2)"/>
<path d="M345.09,435.6 C345.89,434 355.09,434 355.89,435.6 C356.29,439.4 353.49,441.1 350.49,441.1 C347.49,441.1 344.69,439.4 345.09,435.6 Z" fill="#0a0a0a" filter="url(#bl2)"/>
<path d="M357.52,435.6 C358.32,434 367.52,434 368.32,435.6 C368.72,439.4 365.92,441.1 362.92,441.1 C359.92,441.1 357.12,439.4 357.52,435.6 Z" fill="#0a0a0a" filter="url(#bl2)"/>
<path d="M369.95,435.6 C370.75,434 379.95,434 380.75,435.6 C381.15,439.4 378.35,441.1 375.35,441.1 C372.35,441.1 369.55,439.4 369.95,435.6 Z" fill="#0a0a0a" filter="url(#bl2)"/>
<path d="M382.38,435.6 C383.18,434 392.38,434 393.18,435.6 C393.58,439.4 390.78,441.1 387.78,441.1 C384.78,441.1 381.98,439.4 382.38,435.6 Z" fill="#0a0a0a" filter="url(#bl2)"/>
<path d="M394.81,435.6 C395.61,434 404.81,434 405.61,435.6 C406.01,439.4 403.21,441.1 400.21,441.1 C397.21,441.1 394.41,439.4 394.81,435.6 Z" fill="#0a0a0a" filter="url(#bl2)"/>
<path d="M407.24,435.6 C408.04,434 417.24,434 418.04,435.6 C418.44,439.4 415.64,441.1 412.64,441.1 C409.64,441.1 406.84,439.4 407.24,435.6 Z" fill="#0a0a0a" filter="url(#bl2)"/>
<path d="M419.67,435.6 C420.47,434 429.67,434 430.47,435.6 C430.87,439.4 428.07,441.1 425.07,441.1 C422.07,441.1 419.27,439.4 419.67,435.6 Z" fill="#0a0a0a" filter="url(#bl2)"/>
<path d="M432.1,435.6 C432.9,434 442.1,434 442.9,435.6 C443.3,439.4 440.5,441.1 437.5,441.1 C434.5,441.1 431.7,439.4 432.1,435.6 Z" fill="#0a0a0a" filter="url(#bl2)"/>
<ellipse cx="448.13" cy="435.0" rx="5.6" ry="3.0" transform="rotate(-24 448.13 435.0)" fill="#0a0a0a" filter="url(#bl2)"/>
<text x="313.5" y="458.3" font-size="8" font-weight="bold" text-anchor="middle">1</text>
<text x="326.2" y="458.3" font-size="8" font-weight="bold" text-anchor="middle">2</text>
<text x="339.4" y="458.3" font-size="8" font-weight="bold" text-anchor="middle">3</text>
<text x="351.9" y="458.3" font-size="8" font-weight="bold" text-anchor="middle">4</text>
<text x="364.2" y="458.3" font-size="8" font-weight="bold" text-anchor="middle">5</text>
<text x="376.3" y="458.3" font-size="8" font-weight="bold" text-anchor="middle">6</text>
<text x="388.7" y="458.3" font-size="8" font-weight="bold" text-anchor="middle">7</text>
<text x="400.7" y="458.3" font-size="8" font-weight="bold" text-anchor="middle">8</text>
<text x="412.8" y="458.3" font-size="8" font-weight="bold" text-anchor="middle">9</text>
<text x="425.9" y="458.3" font-size="8" font-weight="bold" text-anchor="middle">10</text>
<text x="437.3" y="458.3" font-size="8" font-weight="bold" text-anchor="middle">11</text>
<text x="449.7" y="458.3" font-size="8" font-weight="bold" text-anchor="middle">12</text>
<line x1="304.9" y1="463.5" x2="381.1" y2="463.5" stroke="#111" stroke-width="1.3"/>
<line x1="385.6" y1="463.5" x2="456.3" y2="463.5" stroke="#111" stroke-width="1.3"/>
<text x="318" y="474.4" font-size="7.2" font-weight="bold" font-family='"Liberation Serif", serif' textLength="53.9" lengthAdjust="spacingAndGlyphs">50 U/ml IFN<tspan font-weight="normal">γ</tspan></text>
<text x="393.2" y="474.4" font-size="7.2" font-weight="bold" font-family='"Liberation Serif", serif' textLength="55.5" lengthAdjust="spacingAndGlyphs">0.01 U/ml IFN<tspan font-weight="normal">γ</tspan></text>
<text x="399.7" y="484.5" font-size="7.2" font-weight="bold" font-family='"Liberation Serif", serif' textLength="44.1" lengthAdjust="spacingAndGlyphs">1 ng/ml LPS</text>
<text x="2.8" y="524" font-size="16.6" font-weight="bold">E</text>
<line x1="53.8" y1="532.8" x2="53.8" y2="700.35" stroke="#111" stroke-width="1.5"/>
<line x1="49.8" y1="699.6" x2="53.8" y2="699.6" stroke="#111" stroke-width="1.3"/>
<text x="48" y="702.6" font-size="8.4" font-weight="bold" text-anchor="end">0</text>
<line x1="49.8" y1="686.82" x2="53.8" y2="686.82" stroke="#111" stroke-width="1.3"/>
<text x="48" y="689.82" font-size="8.4" font-weight="bold" text-anchor="end">10</text>
<line x1="49.8" y1="674.05" x2="53.8" y2="674.05" stroke="#111" stroke-width="1.3"/>
<text x="48" y="677.05" font-size="8.4" font-weight="bold" text-anchor="end">20</text>
<line x1="49.8" y1="661.27" x2="53.8" y2="661.27" stroke="#111" stroke-width="1.3"/>
<text x="48" y="664.27" font-size="8.4" font-weight="bold" text-anchor="end">30</text>
<line x1="49.8" y1="648.49" x2="53.8" y2="648.49" stroke="#111" stroke-width="1.3"/>
<text x="48" y="651.49" font-size="8.4" font-weight="bold" text-anchor="end">40</text>
<line x1="49.8" y1="635.72" x2="53.8" y2="635.72" stroke="#111" stroke-width="1.3"/>
<text x="48" y="638.72" font-size="8.4" font-weight="bold" text-anchor="end">50</text>
<line x1="49.8" y1="622.94" x2="53.8" y2="622.94" stroke="#111" stroke-width="1.3"/>
<text x="48" y="625.94" font-size="8.4" font-weight="bold" text-anchor="end">60</text>
<line x1="49.8" y1="610.16" x2="53.8" y2="610.16" stroke="#111" stroke-width="1.3"/>
<text x="48" y="613.16" font-size="8.4" font-weight="bold" text-anchor="end">70</text>
<line x1="49.8" y1="597.38" x2="53.8" y2="597.38" stroke="#111" stroke-width="1.3"/>
<text x="48" y="600.38" font-size="8.4" font-weight="bold" text-anchor="end">80</text>
<line x1="49.8" y1="584.61" x2="53.8" y2="584.61" stroke="#111" stroke-width="1.3"/>
<text x="48" y="587.61" font-size="8.4" font-weight="bold" text-anchor="end">90</text>
<line x1="49.8" y1="571.83" x2="53.8" y2="571.83" stroke="#111" stroke-width="1.3"/>
<text x="48" y="574.83" font-size="8.4" font-weight="bold" text-anchor="end">100</text>
<line x1="49.8" y1="559.05" x2="53.8" y2="559.05" stroke="#111" stroke-width="1.3"/>
<text x="48" y="562.05" font-size="8.4" font-weight="bold" text-anchor="end">110</text>
<line x1="49.8" y1="546.28" x2="53.8" y2="546.28" stroke="#111" stroke-width="1.3"/>
<text x="48" y="549.28" font-size="8.4" font-weight="bold" text-anchor="end">120</text>
<line x1="49.8" y1="533.5" x2="53.8" y2="533.5" stroke="#111" stroke-width="1.3"/>
<text x="48" y="536.5" font-size="8.4" font-weight="bold" text-anchor="end">130</text>
<line x1="53.8" y1="699.6" x2="244.2" y2="699.6" stroke="#111" stroke-width="1.5"/>
<text x="69.5" y="710.6" font-size="7.9" font-weight="bold" text-anchor="middle">0</text>
<text x="101.18" y="710.6" font-size="7.9" font-weight="bold" text-anchor="middle">12</text>
<text x="132.86" y="710.6" font-size="7.9" font-weight="bold" text-anchor="middle">24</text>
<text x="164.54" y="710.6" font-size="7.9" font-weight="bold" text-anchor="middle">36</text>
<text x="196.22" y="710.6" font-size="7.9" font-weight="bold" text-anchor="middle">48</text>
<text x="227.9" y="710.6" font-size="7.9" font-weight="bold" text-anchor="middle">60</text>
<text x="22.4" y="710.4" font-size="7.9" font-weight="bold" textLength="33" lengthAdjust="spacingAndGlyphs">Time (h)</text>
<text x="144.75" y="524.5" font-size="8.6" font-weight="bold" text-anchor="middle" textLength="44.1" lengthAdjust="spacingAndGlyphs">STAT1-WT</text>
<text x="28.9" y="618" font-size="8.0" text-anchor="middle" stroke="#111" stroke-width="0.25" transform="rotate(-90 28.9 618)">μM NO<tspan font-size="5.6" dy="2">2</tspan></text>
<path d="M69.5,688.1 L101.18,688.1 L132.86,689.38 L164.54,690.02 L196.22,689.38 L227.9,688.74" fill="none" stroke="#a9a9a9" stroke-width="1.45" stroke-dasharray="1.4 1.6"/>
<path d="M69.5,688.1 L101.18,689.38 L132.86,690.02 L164.54,683.63 L196.22,679.16 L227.9,677.88" fill="none" stroke="#222222" stroke-width="1.45" stroke-dasharray="1.4 1.6"/>
<path d="M69.5,688.1 L101.18,682.99 L132.86,686.18 L164.54,682.35 L196.22,685.55 L227.9,684.91" fill="none" stroke="#8f8fdc" stroke-width="1.45" stroke-dasharray="1.4 1.6"/>
<path d="M69.5,688.1 L101.18,678.52 L132.86,661.01 L164.54,646.7 L196.22,641.85 L227.9,636.35" fill="none" stroke="#1d8447" stroke-width="1.45" stroke-dasharray="1.4 1.6"/>
<path d="M69.5,687.72 L101.18,670.47 L132.86,634.57 L164.54,613.36 L196.22,588.7 L227.9,580.26" fill="none" stroke="#3a4fa6" stroke-width="1.45" stroke-dasharray="1.4 1.6"/>
<path d="M69.5,688.1 L101.18,686.06 L132.86,684.91 L164.54,684.91 L196.22,683.63 L227.9,681.71" fill="none" stroke="#f26a24" stroke-width="2.1"/>
<rect x="66.2" y="684.8" width="6.6" height="6.6" fill="#a9a9a9"/>
<rect x="97.88" y="684.8" width="6.6" height="6.6" fill="#a9a9a9"/>
<rect x="129.56" y="686.08" width="6.6" height="6.6" fill="#a9a9a9"/>
<rect x="161.24" y="686.72" width="6.6" height="6.6" fill="#a9a9a9"/>
<rect x="192.92" y="686.08" width="6.6" height="6.6" fill="#a9a9a9"/>
<rect x="224.6" y="685.44" width="6.6" height="6.6" fill="#a9a9a9"/>
<path d="M65.7,691.2 L73.3,691.2 L69.5,684.5 Z" fill="#222222"/>
<path d="M97.38,692.48 L104.98,692.48 L101.18,685.78 Z" fill="#222222"/>
<path d="M129.06,693.12 L136.66,693.12 L132.86,686.42 Z" fill="#222222"/>
<path d="M160.74,686.73 L168.34,686.73 L164.54,680.03 Z" fill="#222222"/>
<path d="M192.42,682.26 L200.02,682.26 L196.22,675.56 Z" fill="#222222"/>
<path d="M224.1,680.98 L231.7,680.98 L227.9,674.28 Z" fill="#222222"/>
<path d="M66,684.6 L73,691.6 M66,691.6 L73,684.6" stroke="#8f8fdc" stroke-width="1.1" fill="none"/>
<path d="M97.68,679.49 L104.68,686.49 M97.68,686.49 L104.68,679.49" stroke="#8f8fdc" stroke-width="1.1" fill="none"/>
<path d="M129.36,682.68 L136.36,689.68 M129.36,689.68 L136.36,682.68" stroke="#8f8fdc" stroke-width="1.1" fill="none"/>
<path d="M161.04,678.85 L168.04,685.85 M161.04,685.85 L168.04,678.85" stroke="#8f8fdc" stroke-width="1.1" fill="none"/>
<path d="M192.72,682.05 L199.72,689.05 M192.72,689.05 L199.72,682.05" stroke="#8f8fdc" stroke-width="1.1" fill="none"/>
<path d="M224.4,681.41 L231.4,688.41 M224.4,688.41 L231.4,681.41" stroke="#8f8fdc" stroke-width="1.1" fill="none"/>
<path d="M69.5,684.6 L73.5,688.1 L69.5,691.6 L65.5,688.1 Z" fill="#1d8447"/>
<path d="M101.18,675.02 L105.18,678.52 L101.18,682.02 L97.18,678.52 Z" fill="#1d8447"/>
<path d="M132.86,657.51 L136.86,661.01 L132.86,664.51 L128.86,661.01 Z" fill="#1d8447"/>
<line x1="164.54" y1="639.93" x2="164.54" y2="653.48" stroke="#1d8447" stroke-width="1.1"/>
<line x1="160.94" y1="639.93" x2="168.14" y2="639.93" stroke="#1d8447" stroke-width="1.1"/>
<line x1="160.94" y1="653.48" x2="168.14" y2="653.48" stroke="#1d8447" stroke-width="1.1"/>
<path d="M164.54,643.2 L168.54,646.7 L164.54,650.2 L160.54,646.7 Z" fill="#1d8447"/>
<path d="M196.22,638.35 L200.22,641.85 L196.22,645.35 L192.22,641.85 Z" fill="#1d8447"/>
<path d="M227.9,632.85 L231.9,636.35 L227.9,639.85 L223.9,636.35 Z" fill="#1d8447"/>
<path d="M65.5,684.62 L73.5,684.62 L69.5,691.32 Z" fill="#3a4fa6"/>
<path d="M97.18,667.37 L105.18,667.37 L101.18,674.07 Z" fill="#3a4fa6"/>
<path d="M128.86,631.47 L136.86,631.47 L132.86,638.17 Z" fill="#3a4fa6"/>
<path d="M160.54,610.26 L168.54,610.26 L164.54,616.96 Z" fill="#3a4fa6"/>
<path d="M192.22,585.6 L200.22,585.6 L196.22,592.3 Z" fill="#3a4fa6"/>
<line x1="227.9" y1="573.88" x2="227.9" y2="586.65" stroke="#3a4fa6" stroke-width="1.1"/>
<line x1="224.3" y1="573.88" x2="231.5" y2="573.88" stroke="#3a4fa6" stroke-width="1.1"/>
<line x1="224.3" y1="586.65" x2="231.5" y2="586.65" stroke="#3a4fa6" stroke-width="1.1"/>
<path d="M223.9,577.16 L231.9,577.16 L227.9,583.86 Z" fill="#3a4fa6"/>
<circle cx="69.5" cy="688.1" r="3" fill="#f26a24"/>
<circle cx="101.18" cy="686.06" r="3" fill="#f26a24"/>
<circle cx="132.86" cy="684.91" r="3" fill="#f26a24"/>
<circle cx="164.54" cy="684.91" r="3" fill="#f26a24"/>
<circle cx="196.22" cy="683.63" r="3" fill="#f26a24"/>
<circle cx="227.9" cy="681.71" r="3" fill="#f26a24"/>
<line x1="64" y1="539" x2="79" y2="539" stroke="#3a4fa6" stroke-width="1.25" stroke-dasharray="1.4 1.6"/>
<path d="M67.5,535.9 L75.5,535.9 L71.5,542.6 Z" fill="#3a4fa6"/>
<text x="84.6" y="541.8" font-size="7.6" font-weight="bold" textLength="75.8" lengthAdjust="spacingAndGlyphs">LPS + IFNg [10U/ml]</text>
<line x1="64" y1="551.05" x2="79" y2="551.05" stroke="#1d8447" stroke-width="1.25" stroke-dasharray="1.4 1.6"/>
<path d="M71.5,547.55 L75.5,551.05 L71.5,554.55 L67.5,551.05 Z" fill="#1d8447"/>
<text x="84.6" y="553.8" font-size="7.6" font-weight="bold" textLength="71.3" lengthAdjust="spacingAndGlyphs">LPS + IFNg [1U/ml]</text>
<line x1="64" y1="563.1" x2="79.5" y2="563.1" stroke="#f26a24" stroke-width="2"/>
<circle cx="71.5" cy="563.1" r="3" fill="#f26a24"/>
<text x="84.6" y="565.8" font-size="7.6" font-weight="bold" textLength="77.5" lengthAdjust="spacingAndGlyphs">LPS + IFNg [0.1U/ml]</text>
<line x1="64" y1="575.15" x2="79" y2="575.15" stroke="#8f8fdc" stroke-width="1.25" stroke-dasharray="1.4 1.6"/>
<path d="M68,571.65 L75,578.65 M68,578.65 L75,571.65" stroke="#8f8fdc" stroke-width="1.1" fill="none"/>
<text x="84.6" y="577.8" font-size="7.6" font-weight="bold" textLength="81.7" lengthAdjust="spacingAndGlyphs">LPS + IFNg [0.01U/ml]</text>
<line x1="64" y1="587.2" x2="79" y2="587.2" stroke="#a9a9a9" stroke-width="1.25" stroke-dasharray="1.4 1.6"/>
<rect x="68.2" y="583.9" width="6.6" height="6.6" fill="#a9a9a9"/>
<text x="84.6" y="589.8" font-size="7.6" font-weight="bold" textLength="50.2" lengthAdjust="spacingAndGlyphs">LPS  [1ng/ml]</text>
<line x1="64" y1="599.25" x2="79" y2="599.25" stroke="#222222" stroke-width="1.25" stroke-dasharray="1.4 1.6"/>
<path d="M67.7,602.35 L75.3,602.35 L71.5,595.65 Z" fill="#222222"/>
<text x="84.6" y="601.8" font-size="7.6" font-weight="bold" textLength="50.7" lengthAdjust="spacingAndGlyphs">IFNg [50U/ml]</text>
<line x1="304" y1="532.8" x2="304" y2="700.45" stroke="#111" stroke-width="1.5"/>
<line x1="300" y1="699.7" x2="304" y2="699.7" stroke="#111" stroke-width="1.3"/>
<text x="298.2" y="702.7" font-size="8.4" font-weight="bold" text-anchor="end">0</text>
<line x1="300" y1="686.92" x2="304" y2="686.92" stroke="#111" stroke-width="1.3"/>
<text x="298.2" y="689.92" font-size="8.4" font-weight="bold" text-anchor="end">10</text>
<line x1="300" y1="674.13" x2="304" y2="674.13" stroke="#111" stroke-width="1.3"/>
<text x="298.2" y="677.13" font-size="8.4" font-weight="bold" text-anchor="end">20</text>
<line x1="300" y1="661.35" x2="304" y2="661.35" stroke="#111" stroke-width="1.3"/>
<text x="298.2" y="664.35" font-size="8.4" font-weight="bold" text-anchor="end">30</text>
<line x1="300" y1="648.56" x2="304" y2="648.56" stroke="#111" stroke-width="1.3"/>
<text x="298.2" y="651.56" font-size="8.4" font-weight="bold" text-anchor="end">40</text>
<line x1="300" y1="635.78" x2="304" y2="635.78" stroke="#111" stroke-width="1.3"/>
<text x="298.2" y="638.78" font-size="8.4" font-weight="bold" text-anchor="end">50</text>
<line x1="300" y1="622.99" x2="304" y2="622.99" stroke="#111" stroke-width="1.3"/>
<text x="298.2" y="625.99" font-size="8.4" font-weight="bold" text-anchor="end">60</text>
<line x1="300" y1="610.21" x2="304" y2="610.21" stroke="#111" stroke-width="1.3"/>
<text x="298.2" y="613.21" font-size="8.4" font-weight="bold" text-anchor="end">70</text>
<line x1="300" y1="597.42" x2="304" y2="597.42" stroke="#111" stroke-width="1.3"/>
<text x="298.2" y="600.42" font-size="8.4" font-weight="bold" text-anchor="end">80</text>
<line x1="300" y1="584.64" x2="304" y2="584.64" stroke="#111" stroke-width="1.3"/>
<text x="298.2" y="587.64" font-size="8.4" font-weight="bold" text-anchor="end">90</text>
<line x1="300" y1="571.85" x2="304" y2="571.85" stroke="#111" stroke-width="1.3"/>
<text x="298.2" y="574.85" font-size="8.4" font-weight="bold" text-anchor="end">100</text>
<line x1="300" y1="559.07" x2="304" y2="559.07" stroke="#111" stroke-width="1.3"/>
<text x="298.2" y="562.07" font-size="8.4" font-weight="bold" text-anchor="end">110</text>
<line x1="300" y1="546.28" x2="304" y2="546.28" stroke="#111" stroke-width="1.3"/>
<text x="298.2" y="549.28" font-size="8.4" font-weight="bold" text-anchor="end">120</text>
<line x1="300" y1="533.5" x2="304" y2="533.5" stroke="#111" stroke-width="1.3"/>
<text x="298.2" y="536.5" font-size="8.4" font-weight="bold" text-anchor="end">130</text>
<line x1="304" y1="699.7" x2="494.3" y2="699.7" stroke="#111" stroke-width="1.5"/>
<text x="319.3" y="710.8" font-size="7.9" font-weight="bold" text-anchor="middle">0</text>
<text x="351.08" y="710.8" font-size="7.9" font-weight="bold" text-anchor="middle">12</text>
<text x="382.85" y="710.8" font-size="7.9" font-weight="bold" text-anchor="middle">24</text>
<text x="414.63" y="710.8" font-size="7.9" font-weight="bold" text-anchor="middle">36</text>
<text x="446.4" y="710.8" font-size="7.9" font-weight="bold" text-anchor="middle">48</text>
<text x="478.18" y="710.8" font-size="7.9" font-weight="bold" text-anchor="middle">60</text>
<text x="273.4" y="710.4" font-size="7.9" font-weight="bold" textLength="33" lengthAdjust="spacingAndGlyphs">Time (h)</text>
<text x="398" y="524.9" font-size="8.6" font-weight="bold" text-anchor="middle" textLength="63.8" lengthAdjust="spacingAndGlyphs">STAT1-<tspan font-weight="normal" fill="#888">Δ</tspan>SUMO</text>
<text x="279.7" y="618" font-size="8.0" text-anchor="middle" stroke="#111" stroke-width="0.25" transform="rotate(-90 279.7 618)">μM NO<tspan font-size="5.6" dy="2">2</tspan></text>
<path d="M319.3,689.47 L351.08,684.36 L382.85,667.74 L414.63,664.16 L446.4,666.72 L478.18,638.97" fill="none" stroke="#a9a9a9" stroke-width="1.45" stroke-dasharray="1.4 1.6"/>
<path d="M319.3,689.47 L351.08,689.47 L382.85,684.36 L414.63,665.18 L446.4,650.1 L478.18,637.44" fill="none" stroke="#222222" stroke-width="1.45" stroke-dasharray="1.4 1.6"/>
<path d="M319.3,689.47 L351.08,675.41 L382.85,656.62 L414.63,632.45 L446.4,622.35 L478.18,604.71" fill="none" stroke="#8f8fdc" stroke-width="1.45" stroke-dasharray="1.4 1.6"/>
<path d="M319.3,689.47 L351.08,669.02 L382.85,637.44 L414.63,599.72 L446.4,578.63 L478.18,551.01" fill="none" stroke="#1d8447" stroke-width="1.45" stroke-dasharray="1.4 1.6"/>
<path d="M319.3,689.47 L351.08,669.02 L382.85,627.47 L414.63,587.83 L446.4,576.97 L478.18,545.01" fill="none" stroke="#3a4fa6" stroke-width="1.45" stroke-dasharray="1.4 1.6"/>
<path d="M319.3,689.34 L351.08,671.19 L382.85,648.56 L414.63,617.37 L446.4,605.73 L478.18,603.05" fill="none" stroke="#f26a24" stroke-width="2.1"/>
<rect x="316" y="686.17" width="6.6" height="6.6" fill="#a9a9a9"/>
<rect x="347.78" y="681.06" width="6.6" height="6.6" fill="#a9a9a9"/>
<rect x="379.55" y="664.44" width="6.6" height="6.6" fill="#a9a9a9"/>
<rect x="411.33" y="660.86" width="6.6" height="6.6" fill="#a9a9a9"/>
<rect x="443.1" y="663.42" width="6.6" height="6.6" fill="#a9a9a9"/>
<rect x="474.88" y="635.67" width="6.6" height="6.6" fill="#a9a9a9"/>
<path d="M315.5,692.57 L323.1,692.57 L319.3,685.87 Z" fill="#222222"/>
<path d="M347.28,692.57 L354.88,692.57 L351.08,685.87 Z" fill="#222222"/>
<path d="M379.05,687.46 L386.65,687.46 L382.85,680.76 Z" fill="#222222"/>
<line x1="414.63" y1="661.35" x2="414.63" y2="669.02" stroke="#222222" stroke-width="1.1"/>
<line x1="411.03" y1="661.35" x2="418.23" y2="661.35" stroke="#222222" stroke-width="1.1"/>
<line x1="411.03" y1="669.02" x2="418.23" y2="669.02" stroke="#222222" stroke-width="1.1"/>
<path d="M410.83,668.28 L418.43,668.28 L414.63,661.58 Z" fill="#222222"/>
<path d="M442.6,653.2 L450.2,653.2 L446.4,646.5 Z" fill="#222222"/>
<line x1="478.18" y1="627.21" x2="478.18" y2="647.67" stroke="#222222" stroke-width="1.1"/>
<line x1="474.58" y1="627.21" x2="481.78" y2="627.21" stroke="#222222" stroke-width="1.1"/>
<line x1="474.58" y1="647.67" x2="481.78" y2="647.67" stroke="#222222" stroke-width="1.1"/>
<path d="M474.38,640.54 L481.98,640.54 L478.18,633.84 Z" fill="#222222"/>
<path d="M315.8,685.97 L322.8,692.97 M315.8,692.97 L322.8,685.97" stroke="#8f8fdc" stroke-width="1.1" fill="none"/>
<path d="M347.58,671.91 L354.58,678.91 M347.58,678.91 L354.58,671.91" stroke="#8f8fdc" stroke-width="1.1" fill="none"/>
<path d="M379.35,653.12 L386.35,660.12 M379.35,660.12 L386.35,653.12" stroke="#8f8fdc" stroke-width="1.1" fill="none"/>
<line x1="414.63" y1="628.62" x2="414.63" y2="636.29" stroke="#8f8fdc" stroke-width="1.1"/>
<line x1="411.03" y1="628.62" x2="418.23" y2="628.62" stroke="#8f8fdc" stroke-width="1.1"/>
<line x1="411.03" y1="636.29" x2="418.23" y2="636.29" stroke="#8f8fdc" stroke-width="1.1"/>
<path d="M411.13,628.95 L418.13,635.95 M411.13,635.95 L418.13,628.95" stroke="#8f8fdc" stroke-width="1.1" fill="none"/>
<line x1="446.4" y1="615.32" x2="446.4" y2="629.38" stroke="#8f8fdc" stroke-width="1.1"/>
<line x1="442.8" y1="615.32" x2="450" y2="615.32" stroke="#8f8fdc" stroke-width="1.1"/>
<line x1="442.8" y1="629.38" x2="450" y2="629.38" stroke="#8f8fdc" stroke-width="1.1"/>
<path d="M442.9,618.85 L449.9,625.85 M442.9,625.85 L449.9,618.85" stroke="#8f8fdc" stroke-width="1.1" fill="none"/>
<line x1="478.18" y1="595.76" x2="478.18" y2="613.66" stroke="#8f8fdc" stroke-width="1.1"/>
<line x1="474.58" y1="595.76" x2="481.78" y2="595.76" stroke="#8f8fdc" stroke-width="1.1"/>
<line x1="474.58" y1="613.66" x2="481.78" y2="613.66" stroke="#8f8fdc" stroke-width="1.1"/>
<path d="M474.68,601.21 L481.68,608.21 M474.68,608.21 L481.68,601.21" stroke="#8f8fdc" stroke-width="1.1" fill="none"/>
<path d="M319.3,685.97 L323.3,689.47 L319.3,692.97 L315.3,689.47 Z" fill="#1d8447"/>
<path d="M351.08,665.52 L355.08,669.02 L351.08,672.52 L347.08,669.02 Z" fill="#1d8447"/>
<path d="M382.85,633.94 L386.85,637.44 L382.85,640.94 L378.85,637.44 Z" fill="#1d8447"/>
<line x1="414.63" y1="593.33" x2="414.63" y2="606.12" stroke="#1d8447" stroke-width="1.1"/>
<line x1="411.03" y1="593.33" x2="418.23" y2="593.33" stroke="#1d8447" stroke-width="1.1"/>
<line x1="411.03" y1="606.12" x2="418.23" y2="606.12" stroke="#1d8447" stroke-width="1.1"/>
<path d="M414.63,596.22 L418.63,599.72 L414.63,603.22 L410.63,599.72 Z" fill="#1d8447"/>
<line x1="446.4" y1="570.96" x2="446.4" y2="586.3" stroke="#1d8447" stroke-width="1.1"/>
<line x1="442.8" y1="570.96" x2="450" y2="570.96" stroke="#1d8447" stroke-width="1.1"/>
<line x1="442.8" y1="586.3" x2="450" y2="586.3" stroke="#1d8447" stroke-width="1.1"/>
<path d="M446.4,575.13 L450.4,578.63 L446.4,582.13 L442.4,578.63 Z" fill="#1d8447"/>
<line x1="478.18" y1="544.62" x2="478.18" y2="557.41" stroke="#1d8447" stroke-width="1.1"/>
<line x1="474.58" y1="544.62" x2="481.78" y2="544.62" stroke="#1d8447" stroke-width="1.1"/>
<line x1="474.58" y1="557.41" x2="481.78" y2="557.41" stroke="#1d8447" stroke-width="1.1"/>
<path d="M478.18,547.51 L482.18,551.01 L478.18,554.51 L474.18,551.01 Z" fill="#1d8447"/>
<path d="M315.3,686.37 L323.3,686.37 L319.3,693.07 Z" fill="#3a4fa6"/>
<path d="M347.08,665.92 L355.08,665.92 L351.08,672.62 Z" fill="#3a4fa6"/>
<path d="M378.85,624.37 L386.85,624.37 L382.85,631.07 Z" fill="#3a4fa6"/>
<line x1="414.63" y1="582.72" x2="414.63" y2="592.95" stroke="#3a4fa6" stroke-width="1.1"/>
<line x1="411.03" y1="582.72" x2="418.23" y2="582.72" stroke="#3a4fa6" stroke-width="1.1"/>
<line x1="411.03" y1="592.95" x2="418.23" y2="592.95" stroke="#3a4fa6" stroke-width="1.1"/>
<path d="M410.63,584.73 L418.63,584.73 L414.63,591.43 Z" fill="#3a4fa6"/>
<line x1="446.4" y1="569.3" x2="446.4" y2="584.64" stroke="#3a4fa6" stroke-width="1.1"/>
<line x1="442.8" y1="569.3" x2="450" y2="569.3" stroke="#3a4fa6" stroke-width="1.1"/>
<line x1="442.8" y1="584.64" x2="450" y2="584.64" stroke="#3a4fa6" stroke-width="1.1"/>
<path d="M442.4,573.87 L450.4,573.87 L446.4,580.57 Z" fill="#3a4fa6"/>
<line x1="478.18" y1="542.45" x2="478.18" y2="547.56" stroke="#3a4fa6" stroke-width="1.1"/>
<line x1="474.58" y1="542.45" x2="481.78" y2="542.45" stroke="#3a4fa6" stroke-width="1.1"/>
<line x1="474.58" y1="547.56" x2="481.78" y2="547.56" stroke="#3a4fa6" stroke-width="1.1"/>
<path d="M474.18,541.91 L482.18,541.91 L478.18,548.61 Z" fill="#3a4fa6"/>
<circle cx="319.3" cy="689.34" r="3" fill="#f26a24"/>
<circle cx="351.08" cy="671.19" r="3" fill="#f26a24"/>
<circle cx="382.85" cy="648.56" r="3" fill="#f26a24"/>
<line x1="414.63" y1="614.17" x2="414.63" y2="620.56" stroke="#f26a24" stroke-width="1.1"/>
<line x1="411.03" y1="614.17" x2="418.23" y2="614.17" stroke="#f26a24" stroke-width="1.1"/>
<line x1="411.03" y1="620.56" x2="418.23" y2="620.56" stroke="#f26a24" stroke-width="1.1"/>
<circle cx="414.63" cy="617.37" r="3" fill="#f26a24"/>
<line x1="446.4" y1="594.61" x2="446.4" y2="616.86" stroke="#f26a24" stroke-width="1.1"/>
<line x1="442.8" y1="594.61" x2="450" y2="594.61" stroke="#f26a24" stroke-width="1.1"/>
<line x1="442.8" y1="616.86" x2="450" y2="616.86" stroke="#f26a24" stroke-width="1.1"/>
<circle cx="446.4" cy="605.73" r="3" fill="#f26a24"/>
<line x1="478.18" y1="589.75" x2="478.18" y2="616.34" stroke="#f26a24" stroke-width="1.1"/>
<line x1="474.58" y1="589.75" x2="481.78" y2="589.75" stroke="#f26a24" stroke-width="1.1"/>
<line x1="474.58" y1="616.34" x2="481.78" y2="616.34" stroke="#f26a24" stroke-width="1.1"/>
<circle cx="478.18" cy="603.05" r="3" fill="#f26a24"/>
<text x="3.9" y="735.6" font-size="16.6" font-weight="bold">F</text>
<line x1="53.4" y1="745.1" x2="53.4" y2="912.85" stroke="#111" stroke-width="1.5"/>
<line x1="49.4" y1="912.1" x2="53.4" y2="912.1" stroke="#111" stroke-width="1.3"/>
<text x="47.6" y="915.1" font-size="8.4" font-weight="bold" text-anchor="end">0</text>
<line x1="49.4" y1="898.24" x2="53.4" y2="898.24" stroke="#111" stroke-width="1.3"/>
<text x="47.6" y="901.24" font-size="8.4" font-weight="bold" text-anchor="end">10</text>
<line x1="49.4" y1="884.38" x2="53.4" y2="884.38" stroke="#111" stroke-width="1.3"/>
<text x="47.6" y="887.38" font-size="8.4" font-weight="bold" text-anchor="end">20</text>
<line x1="49.4" y1="870.52" x2="53.4" y2="870.52" stroke="#111" stroke-width="1.3"/>
<text x="47.6" y="873.52" font-size="8.4" font-weight="bold" text-anchor="end">30</text>
<line x1="49.4" y1="856.67" x2="53.4" y2="856.67" stroke="#111" stroke-width="1.3"/>
<text x="47.6" y="859.67" font-size="8.4" font-weight="bold" text-anchor="end">40</text>
<line x1="49.4" y1="842.81" x2="53.4" y2="842.81" stroke="#111" stroke-width="1.3"/>
<text x="47.6" y="845.81" font-size="8.4" font-weight="bold" text-anchor="end">50</text>
<line x1="49.4" y1="828.95" x2="53.4" y2="828.95" stroke="#111" stroke-width="1.3"/>
<text x="47.6" y="831.95" font-size="8.4" font-weight="bold" text-anchor="end">60</text>
<line x1="49.4" y1="815.09" x2="53.4" y2="815.09" stroke="#111" stroke-width="1.3"/>
<text x="47.6" y="818.09" font-size="8.4" font-weight="bold" text-anchor="end">70</text>
<line x1="49.4" y1="801.23" x2="53.4" y2="801.23" stroke="#111" stroke-width="1.3"/>
<text x="47.6" y="804.23" font-size="8.4" font-weight="bold" text-anchor="end">80</text>
<line x1="49.4" y1="787.38" x2="53.4" y2="787.38" stroke="#111" stroke-width="1.3"/>
<text x="47.6" y="790.38" font-size="8.4" font-weight="bold" text-anchor="end">90</text>
<line x1="49.4" y1="773.52" x2="53.4" y2="773.52" stroke="#111" stroke-width="1.3"/>
<text x="47.6" y="776.52" font-size="8.4" font-weight="bold" text-anchor="end">100</text>
<line x1="49.4" y1="759.66" x2="53.4" y2="759.66" stroke="#111" stroke-width="1.3"/>
<text x="47.6" y="762.66" font-size="8.4" font-weight="bold" text-anchor="end">110</text>
<line x1="49.4" y1="745.8" x2="53.4" y2="745.8" stroke="#111" stroke-width="1.3"/>
<text x="47.6" y="748.8" font-size="8.4" font-weight="bold" text-anchor="end">120</text>
<line x1="53.4" y1="912.1" x2="243.4" y2="912.1" stroke="#111" stroke-width="1.5"/>
<text x="69.5" y="922.7" font-size="7.9" font-weight="bold" text-anchor="middle">0</text>
<text x="101.18" y="922.7" font-size="7.9" font-weight="bold" text-anchor="middle">12</text>
<text x="132.86" y="922.7" font-size="7.9" font-weight="bold" text-anchor="middle">24</text>
<text x="164.54" y="922.7" font-size="7.9" font-weight="bold" text-anchor="middle">36</text>
<text x="196.22" y="922.7" font-size="7.9" font-weight="bold" text-anchor="middle">48</text>
<text x="227.9" y="922.7" font-size="7.9" font-weight="bold" text-anchor="middle">60</text>
<text x="22.4" y="922.6" font-size="7.9" font-weight="bold" textLength="33" lengthAdjust="spacingAndGlyphs">Time (h)</text>
<text x="144.75" y="737.3" font-size="8.6" font-weight="bold" text-anchor="middle" textLength="44.1" lengthAdjust="spacingAndGlyphs">STAT1-WT</text>
<text x="29.3" y="825.75" font-size="8.4" font-weight="bold" text-anchor="middle" textLength="155.3" lengthAdjust="spacingAndGlyphs" transform="rotate(-90 29.3 825.75)">% of viable cells compared to untreated</text>
<path d="M69.5,773.52 L101.18,772.82 L132.86,774.07 L164.54,777.67 L196.22,774.76 L227.9,779.61" fill="none" stroke="#a9a9a9" stroke-width="1.45" stroke-dasharray="1.4 1.6"/>
<path d="M69.5,773.52 L101.18,755.09 L132.86,775.18 L164.54,798.46 L196.22,804.14 L227.9,818" fill="none" stroke="#222222" stroke-width="1.45" stroke-dasharray="1.4 1.6"/>
<path d="M69.5,773.52 L101.18,772.13 L132.86,779.06 L164.54,793.89 L196.22,835.88 L227.9,856.81" fill="none" stroke="#8f8fdc" stroke-width="1.45" stroke-dasharray="1.4 1.6"/>
<path d="M69.5,773.52 L101.18,774.9 L132.86,794.72 L164.54,812.74 L196.22,835.88 L227.9,854.87" fill="none" stroke="#1d8447" stroke-width="1.45" stroke-dasharray="1.4 1.6"/>
<path d="M69.5,773.52 L101.18,792.78 L132.86,801.37 L164.54,808.99 L196.22,821.05 L227.9,830.47" fill="none" stroke="#3a4fa6" stroke-width="1.45" stroke-dasharray="1.4 1.6"/>
<path d="M69.5,773.52 L101.18,768.25 L132.86,783.36 L164.54,800.26 L196.22,834.22 L227.9,847.38" fill="none" stroke="#f26a24" stroke-width="2.1"/>
<rect x="66.2" y="770.22" width="6.6" height="6.6" fill="#a9a9a9"/>
<rect x="97.88" y="769.52" width="6.6" height="6.6" fill="#a9a9a9"/>
<rect x="129.56" y="770.77" width="6.6" height="6.6" fill="#a9a9a9"/>
<rect x="161.24" y="774.37" width="6.6" height="6.6" fill="#a9a9a9"/>
<rect x="192.92" y="771.46" width="6.6" height="6.6" fill="#a9a9a9"/>
<rect x="224.6" y="776.31" width="6.6" height="6.6" fill="#a9a9a9"/>
<path d="M65.7,776.62 L73.3,776.62 L69.5,769.92 Z" fill="#222222"/>
<line x1="101.18" y1="750.93" x2="101.18" y2="759.24" stroke="#222222" stroke-width="1.1"/>
<line x1="97.58" y1="750.93" x2="104.78" y2="750.93" stroke="#222222" stroke-width="1.1"/>
<line x1="97.58" y1="759.24" x2="104.78" y2="759.24" stroke="#222222" stroke-width="1.1"/>
<path d="M97.38,758.19 L104.98,758.19 L101.18,751.49 Z" fill="#222222"/>
<line x1="132.86" y1="771.02" x2="132.86" y2="779.34" stroke="#222222" stroke-width="1.1"/>
<line x1="129.26" y1="771.02" x2="136.46" y2="771.02" stroke="#222222" stroke-width="1.1"/>
<line x1="129.26" y1="779.34" x2="136.46" y2="779.34" stroke="#222222" stroke-width="1.1"/>
<path d="M129.06,778.28 L136.66,778.28 L132.86,771.58 Z" fill="#222222"/>
<path d="M160.74,801.56 L168.34,801.56 L164.54,794.86 Z" fill="#222222"/>
<line x1="196.22" y1="797.21" x2="196.22" y2="811.07" stroke="#222222" stroke-width="1.1"/>
<line x1="192.62" y1="797.21" x2="199.82" y2="797.21" stroke="#222222" stroke-width="1.1"/>
<line x1="192.62" y1="811.07" x2="199.82" y2="811.07" stroke="#222222" stroke-width="1.1"/>
<path d="M192.42,807.24 L200.02,807.24 L196.22,800.54 Z" fill="#222222"/>
<line x1="227.9" y1="809.69" x2="227.9" y2="826.32" stroke="#222222" stroke-width="1.1"/>
<line x1="224.3" y1="809.69" x2="231.5" y2="809.69" stroke="#222222" stroke-width="1.1"/>
<line x1="224.3" y1="826.32" x2="231.5" y2="826.32" stroke="#222222" stroke-width="1.1"/>
<path d="M224.1,821.1 L231.7,821.1 L227.9,814.4 Z" fill="#222222"/>
<path d="M66,770.02 L73,777.02 M66,777.02 L73,770.02" stroke="#8f8fdc" stroke-width="1.1" fill="none"/>
<path d="M97.68,768.63 L104.68,775.63 M97.68,775.63 L104.68,768.63" stroke="#8f8fdc" stroke-width="1.1" fill="none"/>
<path d="M129.36,775.56 L136.36,782.56 M129.36,782.56 L136.36,775.56" stroke="#8f8fdc" stroke-width="1.1" fill="none"/>
<path d="M161.04,790.39 L168.04,797.39 M161.04,797.39 L168.04,790.39" stroke="#8f8fdc" stroke-width="1.1" fill="none"/>
<path d="M192.72,832.38 L199.72,839.38 M192.72,839.38 L199.72,832.38" stroke="#8f8fdc" stroke-width="1.1" fill="none"/>
<path d="M224.4,853.31 L231.4,860.31 M224.4,860.31 L231.4,853.31" stroke="#8f8fdc" stroke-width="1.1" fill="none"/>
<path d="M69.5,770.02 L73.5,773.52 L69.5,777.02 L65.5,773.52 Z" fill="#1d8447"/>
<line x1="101.18" y1="766.59" x2="101.18" y2="783.22" stroke="#1d8447" stroke-width="1.1"/>
<line x1="97.58" y1="766.59" x2="104.78" y2="766.59" stroke="#1d8447" stroke-width="1.1"/>
<line x1="97.58" y1="783.22" x2="104.78" y2="783.22" stroke="#1d8447" stroke-width="1.1"/>
<path d="M101.18,771.4 L105.18,774.9 L101.18,778.4 L97.18,774.9 Z" fill="#1d8447"/>
<path d="M132.86,791.22 L136.86,794.72 L132.86,798.22 L128.86,794.72 Z" fill="#1d8447"/>
<path d="M164.54,809.24 L168.54,812.74 L164.54,816.24 L160.54,812.74 Z" fill="#1d8447"/>
<path d="M196.22,832.38 L200.22,835.88 L196.22,839.38 L192.22,835.88 Z" fill="#1d8447"/>
<path d="M227.9,851.37 L231.9,854.87 L227.9,858.37 L223.9,854.87 Z" fill="#1d8447"/>
<path d="M65.5,770.42 L73.5,770.42 L69.5,777.12 Z" fill="#3a4fa6"/>
<path d="M97.18,789.68 L105.18,789.68 L101.18,796.38 Z" fill="#3a4fa6"/>
<path d="M128.86,798.27 L136.86,798.27 L132.86,804.97 Z" fill="#3a4fa6"/>
<path d="M160.54,805.89 L168.54,805.89 L164.54,812.59 Z" fill="#3a4fa6"/>
<path d="M192.22,817.95 L200.22,817.95 L196.22,824.65 Z" fill="#3a4fa6"/>
<path d="M223.9,827.37 L231.9,827.37 L227.9,834.07 Z" fill="#3a4fa6"/>
<line x1="69.5" y1="763.82" x2="69.5" y2="783.22" stroke="#f26a24" stroke-width="1.1"/>
<line x1="65.9" y1="763.82" x2="73.1" y2="763.82" stroke="#f26a24" stroke-width="1.1"/>
<line x1="65.9" y1="783.22" x2="73.1" y2="783.22" stroke="#f26a24" stroke-width="1.1"/>
<circle cx="69.5" cy="773.52" r="3" fill="#f26a24"/>
<circle cx="101.18" cy="768.25" r="3" fill="#f26a24"/>
<line x1="132.86" y1="779.2" x2="132.86" y2="787.51" stroke="#f26a24" stroke-width="1.1"/>
<line x1="129.26" y1="779.2" x2="136.46" y2="779.2" stroke="#f26a24" stroke-width="1.1"/>
<line x1="129.26" y1="787.51" x2="136.46" y2="787.51" stroke="#f26a24" stroke-width="1.1"/>
<circle cx="132.86" cy="783.36" r="3" fill="#f26a24"/>
<circle cx="164.54" cy="800.26" r="3" fill="#f26a24"/>
<line x1="196.22" y1="827.29" x2="196.22" y2="841.15" stroke="#f26a24" stroke-width="1.1"/>
<line x1="192.62" y1="827.29" x2="199.82" y2="827.29" stroke="#f26a24" stroke-width="1.1"/>
<line x1="192.62" y1="841.15" x2="199.82" y2="841.15" stroke="#f26a24" stroke-width="1.1"/>
<circle cx="196.22" cy="834.22" r="3" fill="#f26a24"/>
<line x1="227.9" y1="841.84" x2="227.9" y2="852.92" stroke="#f26a24" stroke-width="1.1"/>
<line x1="224.3" y1="841.84" x2="231.5" y2="841.84" stroke="#f26a24" stroke-width="1.1"/>
<line x1="224.3" y1="852.92" x2="231.5" y2="852.92" stroke="#f26a24" stroke-width="1.1"/>
<circle cx="227.9" cy="847.38" r="3" fill="#f26a24"/>
<line x1="64" y1="838.4" x2="79" y2="838.4" stroke="#a9a9a9" stroke-width="1.25" stroke-dasharray="1.4 1.6"/>
<rect x="68.2" y="835.1" width="6.6" height="6.6" fill="#a9a9a9"/>
<text x="84.6" y="840.6" font-size="7.6" font-weight="bold" textLength="50.1" lengthAdjust="spacingAndGlyphs">LPS  [1ng/ml]</text>
<line x1="64" y1="850.6" x2="79" y2="850.6" stroke="#222222" stroke-width="1.25" stroke-dasharray="1.4 1.6"/>
<path d="M67.7,853.7 L75.3,853.7 L71.5,847 Z" fill="#222222"/>
<text x="84.6" y="852.8" font-size="7.6" font-weight="bold" textLength="50.1" lengthAdjust="spacingAndGlyphs">IFNg [50U/ml]</text>
<line x1="64" y1="862.8" x2="79" y2="862.8" stroke="#8f8fdc" stroke-width="1.25" stroke-dasharray="1.4 1.6"/>
<path d="M68,859.3 L75,866.3 M68,866.3 L75,859.3" stroke="#8f8fdc" stroke-width="1.1" fill="none"/>
<text x="84.6" y="865" font-size="7.6" font-weight="bold" textLength="80.8" lengthAdjust="spacingAndGlyphs">LPS + IFNg [0.01U/ml]</text>
<line x1="64" y1="875" x2="79.5" y2="875" stroke="#f26a24" stroke-width="2"/>
<circle cx="71.5" cy="875" r="3" fill="#f26a24"/>
<text x="84.6" y="877.2" font-size="7.6" font-weight="bold" textLength="76.5" lengthAdjust="spacingAndGlyphs">LPS + IFNg [0.1U/ml]</text>
<line x1="64" y1="887.2" x2="79" y2="887.2" stroke="#1d8447" stroke-width="1.25" stroke-dasharray="1.4 1.6"/>
<path d="M71.5,883.7 L75.5,887.2 L71.5,890.7 L67.5,887.2 Z" fill="#1d8447"/>
<text x="84.6" y="889.4" font-size="7.6" font-weight="bold" textLength="69.8" lengthAdjust="spacingAndGlyphs">LPS + IFNg [1U/ml]</text>
<line x1="64" y1="899.4" x2="79" y2="899.4" stroke="#3a4fa6" stroke-width="1.25" stroke-dasharray="1.4 1.6"/>
<path d="M67.5,896.3 L75.5,896.3 L71.5,903 Z" fill="#3a4fa6"/>
<text x="84.6" y="901.6" font-size="7.6" font-weight="bold" textLength="74.4" lengthAdjust="spacingAndGlyphs">LPS + IFNg [10U/ml]</text>
<line x1="303.7" y1="745.1" x2="303.7" y2="912.85" stroke="#111" stroke-width="1.5"/>
<line x1="299.7" y1="912.1" x2="303.7" y2="912.1" stroke="#111" stroke-width="1.3"/>
<text x="297.9" y="915.1" font-size="8.4" font-weight="bold" text-anchor="end">0</text>
<line x1="299.7" y1="898.24" x2="303.7" y2="898.24" stroke="#111" stroke-width="1.3"/>
<text x="297.9" y="901.24" font-size="8.4" font-weight="bold" text-anchor="end">10</text>
<line x1="299.7" y1="884.38" x2="303.7" y2="884.38" stroke="#111" stroke-width="1.3"/>
<text x="297.9" y="887.38" font-size="8.4" font-weight="bold" text-anchor="end">20</text>
<line x1="299.7" y1="870.52" x2="303.7" y2="870.52" stroke="#111" stroke-width="1.3"/>
<text x="297.9" y="873.52" font-size="8.4" font-weight="bold" text-anchor="end">30</text>
<line x1="299.7" y1="856.67" x2="303.7" y2="856.67" stroke="#111" stroke-width="1.3"/>
<text x="297.9" y="859.67" font-size="8.4" font-weight="bold" text-anchor="end">40</text>
<line x1="299.7" y1="842.81" x2="303.7" y2="842.81" stroke="#111" stroke-width="1.3"/>
<text x="297.9" y="845.81" font-size="8.4" font-weight="bold" text-anchor="end">50</text>
<line x1="299.7" y1="828.95" x2="303.7" y2="828.95" stroke="#111" stroke-width="1.3"/>
<text x="297.9" y="831.95" font-size="8.4" font-weight="bold" text-anchor="end">60</text>
<line x1="299.7" y1="815.09" x2="303.7" y2="815.09" stroke="#111" stroke-width="1.3"/>
<text x="297.9" y="818.09" font-size="8.4" font-weight="bold" text-anchor="end">70</text>
<line x1="299.7" y1="801.23" x2="303.7" y2="801.23" stroke="#111" stroke-width="1.3"/>
<text x="297.9" y="804.23" font-size="8.4" font-weight="bold" text-anchor="end">80</text>
<line x1="299.7" y1="787.38" x2="303.7" y2="787.38" stroke="#111" stroke-width="1.3"/>
<text x="297.9" y="790.38" font-size="8.4" font-weight="bold" text-anchor="end">90</text>
<line x1="299.7" y1="773.52" x2="303.7" y2="773.52" stroke="#111" stroke-width="1.3"/>
<text x="297.9" y="776.52" font-size="8.4" font-weight="bold" text-anchor="end">100</text>
<line x1="299.7" y1="759.66" x2="303.7" y2="759.66" stroke="#111" stroke-width="1.3"/>
<text x="297.9" y="762.66" font-size="8.4" font-weight="bold" text-anchor="end">110</text>
<line x1="299.7" y1="745.8" x2="303.7" y2="745.8" stroke="#111" stroke-width="1.3"/>
<text x="297.9" y="748.8" font-size="8.4" font-weight="bold" text-anchor="end">120</text>
<line x1="303.7" y1="912.1" x2="494.3" y2="912.1" stroke="#111" stroke-width="1.5"/>
<text x="319.3" y="922.7" font-size="7.9" font-weight="bold" text-anchor="middle">0</text>
<text x="351.08" y="922.7" font-size="7.9" font-weight="bold" text-anchor="middle">12</text>
<text x="382.85" y="922.7" font-size="7.9" font-weight="bold" text-anchor="middle">24</text>
<text x="414.63" y="922.7" font-size="7.9" font-weight="bold" text-anchor="middle">36</text>
<text x="446.4" y="922.7" font-size="7.9" font-weight="bold" text-anchor="middle">48</text>
<text x="478.18" y="922.7" font-size="7.9" font-weight="bold" text-anchor="middle">60</text>
<text x="273.4" y="922.6" font-size="7.9" font-weight="bold" textLength="33" lengthAdjust="spacingAndGlyphs">Time (h)</text>
<text x="398" y="737.6" font-size="8.6" font-weight="bold" text-anchor="middle" textLength="63.8" lengthAdjust="spacingAndGlyphs">STAT1-<tspan font-weight="normal" fill="#888">Δ</tspan>SUMO</text>
<text x="279.8" y="825.75" font-size="8.4" font-weight="bold" text-anchor="middle" textLength="155.3" lengthAdjust="spacingAndGlyphs" transform="rotate(-90 279.8 825.75)">% of viable cells compared to untreated</text>
<path d="M319.3,773.52 L351.08,792.23 L382.85,783.22 L414.63,794.72 L446.4,794.72 L478.18,838.79" fill="none" stroke="#a9a9a9" stroke-width="1.45" stroke-dasharray="1.4 1.6"/>
<path d="M319.3,773.52 L351.08,769.64 L382.85,794.72 L414.63,828.95 L446.4,832.28 L478.18,831.31" fill="none" stroke="#222222" stroke-width="1.45" stroke-dasharray="1.4 1.6"/>
<path d="M319.3,773.52 L351.08,799.85 L382.85,818.83 L414.63,848.91 L446.4,869.97 L478.18,886.05" fill="none" stroke="#8f8fdc" stroke-width="1.45" stroke-dasharray="1.4 1.6"/>
<path d="M319.3,773.52 L351.08,813.71 L382.85,810.93 L414.63,809.69 L446.4,828.95 L478.18,859.85" fill="none" stroke="#1d8447" stroke-width="1.45" stroke-dasharray="1.4 1.6"/>
<path d="M319.3,773.52 L351.08,819.8 L382.85,815.09 L414.63,816.2 L446.4,831.72 L478.18,844.89" fill="none" stroke="#3a4fa6" stroke-width="1.45" stroke-dasharray="1.4 1.6"/>
<path d="M319.3,773.1 L351.08,793.75 L382.85,813.29 L414.63,828.81 L446.4,854.87 L478.18,876.48" fill="none" stroke="#f26a24" stroke-width="2.1"/>
<rect x="316" y="770.22" width="6.6" height="6.6" fill="#a9a9a9"/>
<rect x="347.78" y="788.93" width="6.6" height="6.6" fill="#a9a9a9"/>
<rect x="379.55" y="779.92" width="6.6" height="6.6" fill="#a9a9a9"/>
<rect x="411.33" y="791.42" width="6.6" height="6.6" fill="#a9a9a9"/>
<rect x="443.1" y="791.42" width="6.6" height="6.6" fill="#a9a9a9"/>
<rect x="474.88" y="835.49" width="6.6" height="6.6" fill="#a9a9a9"/>
<path d="M315.5,776.62 L323.1,776.62 L319.3,769.92 Z" fill="#222222"/>
<line x1="351.08" y1="759.94" x2="351.08" y2="779.34" stroke="#222222" stroke-width="1.1"/>
<line x1="347.48" y1="759.94" x2="354.68" y2="759.94" stroke="#222222" stroke-width="1.1"/>
<line x1="347.48" y1="779.34" x2="354.68" y2="779.34" stroke="#222222" stroke-width="1.1"/>
<path d="M347.28,772.74 L354.88,772.74 L351.08,766.04 Z" fill="#222222"/>
<path d="M379.05,797.82 L386.65,797.82 L382.85,791.12 Z" fill="#222222"/>
<path d="M410.83,832.05 L418.43,832.05 L414.63,825.35 Z" fill="#222222"/>
<line x1="446.4" y1="823.96" x2="446.4" y2="840.59" stroke="#222222" stroke-width="1.1"/>
<line x1="442.8" y1="823.96" x2="450" y2="823.96" stroke="#222222" stroke-width="1.1"/>
<line x1="442.8" y1="840.59" x2="450" y2="840.59" stroke="#222222" stroke-width="1.1"/>
<path d="M442.6,835.38 L450.2,835.38 L446.4,828.68 Z" fill="#222222"/>
<line x1="478.18" y1="824.38" x2="478.18" y2="838.24" stroke="#222222" stroke-width="1.1"/>
<line x1="474.58" y1="824.38" x2="481.78" y2="824.38" stroke="#222222" stroke-width="1.1"/>
<line x1="474.58" y1="838.24" x2="481.78" y2="838.24" stroke="#222222" stroke-width="1.1"/>
<path d="M474.38,834.41 L481.98,834.41 L478.18,827.71 Z" fill="#222222"/>
<path d="M315.8,770.02 L322.8,777.02 M315.8,777.02 L322.8,770.02" stroke="#8f8fdc" stroke-width="1.1" fill="none"/>
<path d="M347.58,796.35 L354.58,803.35 M347.58,803.35 L354.58,796.35" stroke="#8f8fdc" stroke-width="1.1" fill="none"/>
<path d="M379.35,815.33 L386.35,822.33 M379.35,822.33 L386.35,815.33" stroke="#8f8fdc" stroke-width="1.1" fill="none"/>
<path d="M411.13,845.41 L418.13,852.41 M411.13,852.41 L418.13,845.41" stroke="#8f8fdc" stroke-width="1.1" fill="none"/>
<path d="M442.9,866.47 L449.9,873.47 M442.9,873.47 L449.9,866.47" stroke="#8f8fdc" stroke-width="1.1" fill="none"/>
<path d="M474.68,882.55 L481.68,889.55 M474.68,889.55 L481.68,882.55" stroke="#8f8fdc" stroke-width="1.1" fill="none"/>
<path d="M319.3,770.02 L323.3,773.52 L319.3,777.02 L315.3,773.52 Z" fill="#1d8447"/>
<path d="M351.08,810.21 L355.08,813.71 L351.08,817.21 L347.08,813.71 Z" fill="#1d8447"/>
<path d="M382.85,807.43 L386.85,810.93 L382.85,814.43 L378.85,810.93 Z" fill="#1d8447"/>
<path d="M414.63,806.19 L418.63,809.69 L414.63,813.19 L410.63,809.69 Z" fill="#1d8447"/>
<line x1="446.4" y1="823.41" x2="446.4" y2="834.49" stroke="#1d8447" stroke-width="1.1"/>
<line x1="442.8" y1="823.41" x2="450" y2="823.41" stroke="#1d8447" stroke-width="1.1"/>
<line x1="442.8" y1="834.49" x2="450" y2="834.49" stroke="#1d8447" stroke-width="1.1"/>
<path d="M446.4,825.45 L450.4,828.95 L446.4,832.45 L442.4,828.95 Z" fill="#1d8447"/>
<line x1="478.18" y1="854.31" x2="478.18" y2="865.4" stroke="#1d8447" stroke-width="1.1"/>
<line x1="474.58" y1="854.31" x2="481.78" y2="854.31" stroke="#1d8447" stroke-width="1.1"/>
<line x1="474.58" y1="865.4" x2="481.78" y2="865.4" stroke="#1d8447" stroke-width="1.1"/>
<path d="M478.18,856.35 L482.18,859.85 L478.18,863.35 L474.18,859.85 Z" fill="#1d8447"/>
<path d="M315.3,770.42 L323.3,770.42 L319.3,777.12 Z" fill="#3a4fa6"/>
<line x1="351.08" y1="812.87" x2="351.08" y2="826.73" stroke="#3a4fa6" stroke-width="1.1"/>
<line x1="347.48" y1="812.87" x2="354.68" y2="812.87" stroke="#3a4fa6" stroke-width="1.1"/>
<line x1="347.48" y1="826.73" x2="354.68" y2="826.73" stroke="#3a4fa6" stroke-width="1.1"/>
<path d="M347.08,816.7 L355.08,816.7 L351.08,823.4 Z" fill="#3a4fa6"/>
<path d="M378.85,811.99 L386.85,811.99 L382.85,818.69 Z" fill="#3a4fa6"/>
<path d="M410.63,813.1 L418.63,813.1 L414.63,819.8 Z" fill="#3a4fa6"/>
<path d="M442.4,828.62 L450.4,828.62 L446.4,835.32 Z" fill="#3a4fa6"/>
<line x1="478.18" y1="836.57" x2="478.18" y2="853.2" stroke="#3a4fa6" stroke-width="1.1"/>
<line x1="474.58" y1="836.57" x2="481.78" y2="836.57" stroke="#3a4fa6" stroke-width="1.1"/>
<line x1="474.58" y1="853.2" x2="481.78" y2="853.2" stroke="#3a4fa6" stroke-width="1.1"/>
<path d="M474.18,841.79 L482.18,841.79 L478.18,848.49 Z" fill="#3a4fa6"/>
<line x1="319.3" y1="757.86" x2="319.3" y2="788.35" stroke="#f26a24" stroke-width="1.1"/>
<line x1="315.7" y1="757.86" x2="322.9" y2="757.86" stroke="#f26a24" stroke-width="1.1"/>
<line x1="315.7" y1="788.35" x2="322.9" y2="788.35" stroke="#f26a24" stroke-width="1.1"/>
<circle cx="319.3" cy="773.1" r="3" fill="#f26a24"/>
<line x1="351.08" y1="785.43" x2="351.08" y2="802.06" stroke="#f26a24" stroke-width="1.1"/>
<line x1="347.48" y1="785.43" x2="354.68" y2="785.43" stroke="#f26a24" stroke-width="1.1"/>
<line x1="347.48" y1="802.06" x2="354.68" y2="802.06" stroke="#f26a24" stroke-width="1.1"/>
<circle cx="351.08" cy="793.75" r="3" fill="#f26a24"/>
<circle cx="382.85" cy="813.29" r="3" fill="#f26a24"/>
<circle cx="414.63" cy="828.81" r="3" fill="#f26a24"/>
<circle cx="446.4" cy="854.87" r="3" fill="#f26a24"/>
<circle cx="478.18" cy="876.48" r="3" fill="#f26a24"/>
</svg>
</body></html>
